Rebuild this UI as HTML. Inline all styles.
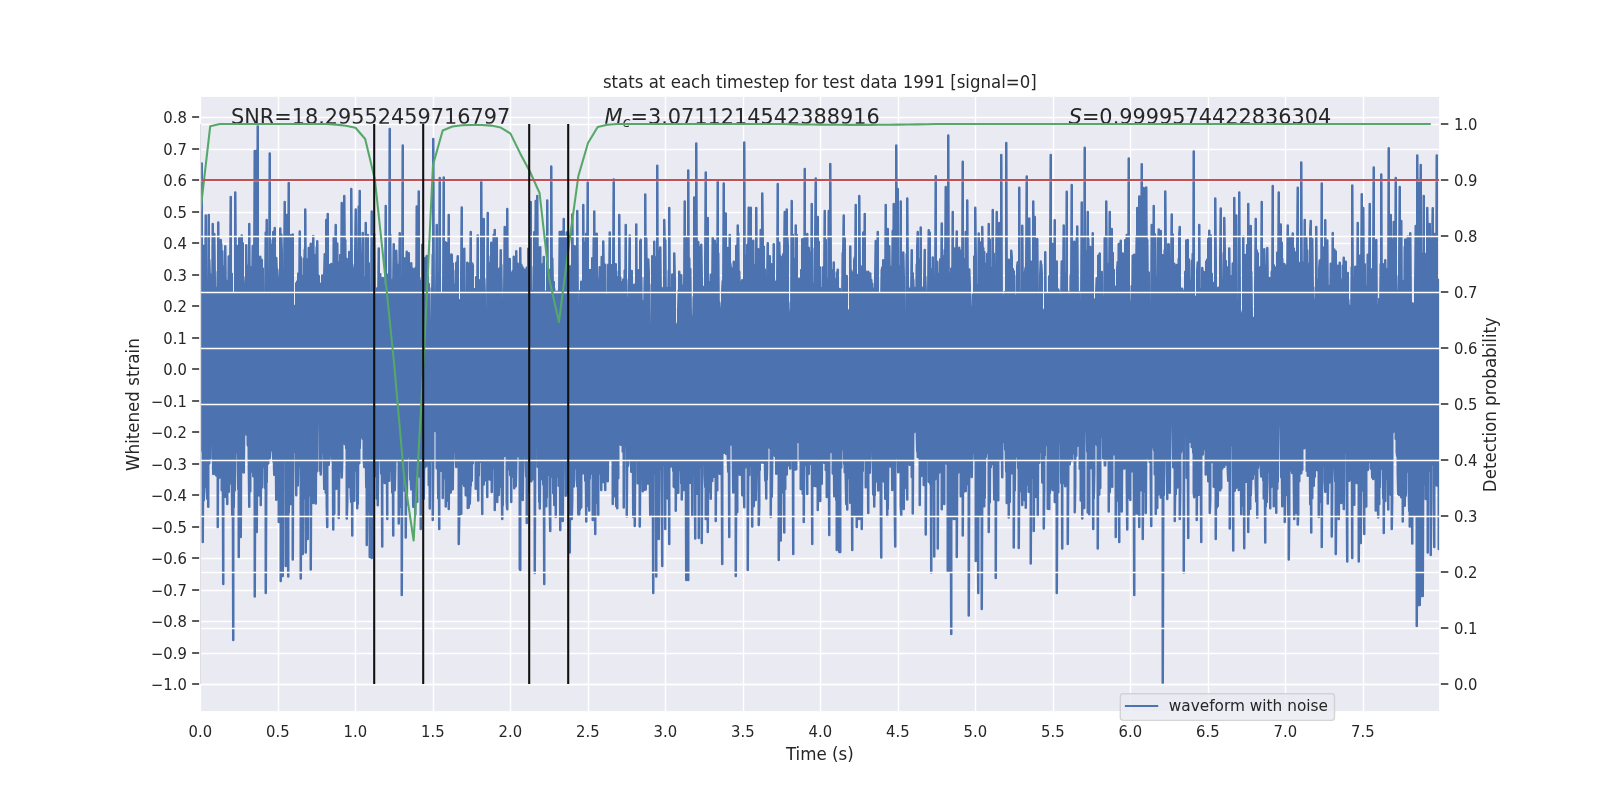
<!DOCTYPE html>
<html lang="en"><head><meta charset="utf-8"><title>stats at each timestep</title>
<style>html,body{margin:0;padding:0;background:#fff}body{width:1600px;height:800px;overflow:hidden}svg text{white-space:pre}</style></head>
<body>
<div id="fig" style="width:1600px;height:800px;will-change:transform">
<svg width="1600" height="800" viewBox="0 0 1600 800" style="display:block">
<defs><clipPath id="ax"><rect x="200" y="96" width="1240" height="616"/></clipPath></defs>
<rect x="0" y="0" width="1600" height="800" fill="#fff"/>
<rect x="200" y="96" width="1240" height="616" fill="#eaeaf2"/>
<path d="M200.5 96V712M278.5 96V712M355.5 96V712M433.5 96V712M510.5 96V712M588.5 96V712M665.5 96V712M743.5 96V712M820.5 96V712M898.5 96V712M975.5 96V712M1053.5 96V712M1130.5 96V712M1208.5 96V712M1285.5 96V712M1363.5 96V712M200 684.5H1440M200 653.5H1440M200 621.5H1440M200 590.5H1440M200 558.5H1440M200 527.5H1440M200 495.5H1440M200 464.5H1440M200 432.5H1440M200 401.5H1440M200 369.5H1440M200 338.5H1440M200 306.5H1440M200 275.5H1440M200 243.5H1440M200 212.5H1440M200 180.5H1440M200 149.5H1440M200 117.5H1440" stroke="#fff" stroke-width="1.39" fill="none" clip-path="url(#ax)"/>
<polyline points="200.75,278.4 200.75,450.62 201.25,441.39 201.25,240 201.75,163.4 201.75,415.49 202.25,424.56 202.25,307.91 202.75,302.54 202.75,542 203.25,431.56 203.25,245.8 203.75,337.53 203.75,500.2 204.25,490.25 204.25,255.69 204.75,259.39 204.75,487.47 205.25,440.51 205.25,290.81 205.75,215.4 205.75,436.02 206.25,458.86 206.25,304.06 206.75,305.74 206.75,463.26 207.25,498.73 207.25,292.45 207.75,288.12 207.75,420.08 208.25,506.83 208.25,284.37 208.75,215 208.75,446.42 209.25,463.42 209.25,260.03 209.75,278.66 209.75,430.61 210.25,458.41 210.25,274.6 210.75,308.65 210.75,425.15 211.25,429.45 211.25,313.01 211.75,279.5 211.75,430.43 212.25,443.74 212.25,325.87 212.75,224 212.75,444.28 213.25,473.97 213.25,287.35 213.75,290.93 213.75,425.78 214.25,429.44 214.25,234.03 214.75,278.04 214.75,469.35 215.25,470.85 215.25,287.4 215.75,288.69 215.75,474.52 216.25,475.53 216.25,306.27 216.75,333.89 216.75,469.94 217.25,460.89 217.25,310.41 217.75,272.06 217.75,527 218.25,426.4 218.25,222.6 218.75,297.73 218.75,437.58 219.25,477.84 219.25,337.72 219.75,254.23 219.75,436.17 220.25,459.27 220.25,313.5 220.75,240 220.75,440.97 221.25,452.33 221.25,244.25 221.75,287.73 221.75,490.34 222.25,469.74 222.25,251.18 222.75,277.09 222.75,453.27 223.25,584 223.25,266.6 223.75,319.52 223.75,485.86 224.25,469.41 224.25,285.34 224.75,287.88 224.75,452.91 225.25,496.79 225.25,246.29 225.75,298.3 225.75,472.72 226.25,452.07 226.25,280.73 226.75,323.5 226.75,470.08 227.25,503.91 227.25,296.48 227.75,300.94 227.75,460.72 228.25,474.48 228.25,313.86 228.75,256.47 228.75,491.73 229.25,427.37 229.25,297.04 229.75,268.89 229.75,455.26 230.25,465.02 230.25,281.41 230.75,197 230.75,423.49 231.25,483.68 231.25,277.25 231.75,273.62 231.75,475.05 232.25,515.72 232.25,313.81 232.75,292.79 232.75,448.4 233.25,640 233.25,306.85 233.75,295.44 233.75,507.27 234.25,451.01 234.25,318.95 234.75,306.01 234.75,490.37 235.25,451.67 235.25,192.6 235.75,274.08 235.75,446.14 236.25,442.12 236.25,302.52 236.75,245.68 236.75,437.7 237.25,452.34 237.25,275 237.75,315.51 237.75,433.78 238.25,489.33 238.25,251.57 238.75,322.87 238.75,557 239.25,428.09 239.25,238.13 239.75,283.07 239.75,423.07 240.25,409.04 240.25,314.28 240.75,310.4 240.75,537 241.25,425.52 241.25,244.34 241.75,235.4 241.75,471.54 242.25,443.9 242.25,311.35 242.75,243.37 242.75,436.59 243.25,440.01 243.25,276.92 243.75,283.08 243.75,472.45 244.25,415.92 244.25,297.26 244.75,294.85 244.75,428.82 245.25,433.35 245.25,306.86 245.75,326.92 245.75,428.03 246.25,434.44 246.25,245.2 246.75,290.82 246.75,433.94 247.25,430.84 247.25,284.83 247.75,301.01 247.75,444.84 248.25,445.89 248.25,265.46 248.75,329.66 248.75,454.51 249.25,506.85 249.25,224 249.75,328.47 249.75,459.82 250.25,491.33 250.25,316.33 250.75,267.5 250.75,467.98 251.25,461.61 251.25,275.42 251.75,293.64 251.75,456.33 252.25,471.59 252.25,286.68 252.75,245.97 252.75,456.46 253.25,476.15 253.25,299.48 253.75,281.39 253.75,435.38 254.25,445.12 254.25,272.9 254.75,151 254.75,596.6 255.25,449.93 255.25,287.03 255.75,263.72 255.75,491.85 256.25,516.43 256.25,151 256.75,313.79 256.75,532 257.25,428.54 257.25,276.75 257.75,126 257.75,479.62 258.25,470.21 258.25,265.25 258.75,257.38 258.75,443.03 259.25,495.52 259.25,315.05 259.75,294.3 259.75,455.85 260.25,423.38 260.25,256.64 260.75,332.91 260.75,505 261.25,438.75 261.25,278.11 261.75,259.97 261.75,465.37 262.25,487.35 262.25,287.49 262.75,268.43 262.75,428.26 263.25,417.11 263.25,307.82 263.75,309.93 263.75,466.42 264.25,450.87 264.25,298.17 264.75,311.44 264.75,453.03 265.25,488.19 265.25,299.35 265.75,232.46 265.75,593 266.25,488.61 266.25,282.78 266.75,220 266.75,482.36 267.25,408.56 267.25,304.55 267.75,270.57 267.75,432.89 268.25,463.55 268.25,292.49 268.75,280.08 268.75,423.45 269.25,426.39 269.25,287.3 269.75,153.4 269.75,458.12 270.25,450.01 270.25,240.19 270.75,266.48 270.75,450.7 271.25,441.53 271.25,282.19 271.75,293.75 271.75,441.68 272.25,439.46 272.25,244.75 272.75,294.8 272.75,428.67 273.25,461 273.25,232.11 273.75,322.22 273.75,453.32 274.25,474.78 274.25,293.51 274.75,228 274.75,467.9 275.25,470.74 275.25,294.28 275.75,306.02 275.75,446.26 276.25,499.65 276.25,258.07 276.75,273.62 276.75,449.24 277.25,469.74 277.25,269.4 277.75,278 277.75,485.85 278.25,450.03 278.25,298.69 278.75,300.28 278.75,522 279.25,467.16 279.25,295.74 279.75,309.59 279.75,429.4 280.25,459.34 280.25,228.6 280.75,308.83 280.75,581 281.25,438.51 281.25,234.59 281.75,252.46 281.75,466.46 282.25,446.61 282.25,317.34 282.75,280.25 282.75,576 283.25,441 283.25,289.99 283.75,281.02 283.75,432.54 284.25,458.39 284.25,275.28 284.75,202 284.75,453.01 285.25,448.88 285.25,289.22 285.75,290.96 285.75,566 286.25,474.44 286.25,278.14 286.75,215 286.75,461.58 287.25,466.33 287.25,311.08 287.75,323.14 287.75,463.13 288.25,576.6 288.25,294.81 288.75,183 288.75,512.49 289.25,445.78 289.25,256.65 289.75,267.96 289.75,467.96 290.25,454.1 290.25,317.26 290.75,235.27 290.75,504 291.25,453.71 291.25,258.66 291.75,244.87 291.75,452.73 292.25,443.26 292.25,286.71 292.75,234.54 292.75,559.4 293.25,423.13 293.25,325.42 293.75,328.48 293.75,436.98 294.25,450.26 294.25,330.98 294.75,305.89 294.75,425.08 295.25,451.86 295.25,306.2 295.75,310.79 295.75,438.88 296.25,495.29 296.25,283.29 296.75,326.75 296.75,444.89 297.25,448.97 297.25,281.38 297.75,312.53 297.75,485.43 298.25,461.42 298.25,273.48 298.75,330.74 298.75,422.39 299.25,437.99 299.25,301.81 299.75,231.6 299.75,465.45 300.25,436.67 300.25,285.55 300.75,257.22 300.75,578.6 301.25,466.45 301.25,275.4 301.75,279.66 301.75,456.68 302.25,441.57 302.25,310.5 302.75,282.7 302.75,554 303.25,467.37 303.25,326.62 303.75,258.72 303.75,420.66 304.25,441.89 304.25,293.68 304.75,249.87 304.75,444.15 305.25,498.8 305.25,209.6 305.75,299.86 305.75,552.6 306.25,446.76 306.25,301.29 306.75,317.31 306.75,436.31 307.25,472.99 307.25,278.27 307.75,259.34 307.75,539 308.25,423.44 308.25,301.59 308.75,248.1 308.75,495.59 309.25,473.07 309.25,259.38 309.75,315.74 309.75,437.95 310.25,449.32 310.25,263.51 310.75,243.71 310.75,569.6 311.25,450.79 311.25,310.03 311.75,282.76 311.75,425.65 312.25,454.01 312.25,277.18 312.75,279.78 312.75,457.47 313.25,503.05 313.25,236 313.75,275.1 313.75,490.73 314.25,460.42 314.25,277.79 314.75,255.26 314.75,422.6 315.25,452.24 315.25,258.44 315.75,300.66 315.75,503.4 316.25,426.55 316.25,268.86 316.75,247.17 316.75,471.59 317.25,418.2 317.25,241.14 317.75,312.9 317.75,424.24 318.25,418.37 318.25,329.3 318.75,276.07 318.75,417.71 319.25,419 319.25,308.7 319.75,283.56 319.75,470.68 320.25,452.6 320.25,287.89 320.75,297.05 320.75,474.51 321.25,450.1 321.25,305.89 321.75,291.63 321.75,432.28 322.25,451.37 322.25,275.47 322.75,318.49 322.75,422.58 323.25,427.02 323.25,296.96 323.75,315.32 323.75,452.85 324.25,488.87 324.25,274.98 324.75,254.14 324.75,436.99 325.25,457.12 325.25,297.22 325.75,297.58 325.75,492.76 326.25,489.25 326.25,220 326.75,308.67 326.75,504.45 327.25,527 327.25,306.28 327.75,214 327.75,463.7 328.25,463.13 328.25,291.57 328.75,320.65 328.75,464.67 329.25,454.62 329.25,265.28 329.75,282.32 329.75,447.64 330.25,439.48 330.25,302.57 330.75,321.12 330.75,424.48 331.25,448.2 331.25,263.98 331.75,315.56 331.75,459.45 332.25,460.89 332.25,315.37 332.75,315.6 332.75,433.98 333.25,529.6 333.25,320.68 333.75,237.41 333.75,421.02 334.25,513.71 334.25,304.71 334.75,302.1 334.75,468.94 335.25,461.15 335.25,253.76 335.75,225 335.75,451.08 336.25,488.86 336.25,310.82 336.75,293.17 336.75,411.34 337.25,415.28 337.25,243.4 337.75,297.33 337.75,458.51 338.25,443.45 338.25,270.08 338.75,318.94 338.75,518 339.25,459.7 339.25,268.27 339.75,262.25 339.75,421.4 340.25,421.27 340.25,254.94 340.75,273.84 340.75,471.3 341.25,428.24 341.25,297.65 341.75,203 341.75,477.52 342.25,459.43 342.25,287.05 342.75,264.7 342.75,436.01 343.25,440.83 343.25,310.53 343.75,304.93 343.75,438.18 344.25,430.11 344.25,196 344.75,265.82 344.75,444.02 345.25,441.22 345.25,240.17 345.75,316.06 345.75,436.79 346.25,448.5 346.25,311.05 346.75,259.03 346.75,518.6 347.25,502.73 347.25,276.65 347.75,268.98 347.75,458.8 348.25,424.65 348.25,328.28 348.75,296.06 348.75,474.98 349.25,456.9 349.25,251.94 349.75,262.17 349.75,487.26 350.25,421.83 350.25,295.96 350.75,276.96 350.75,495.93 351.25,502.11 351.25,189 351.75,264.45 351.75,412.16 352.25,535.4 352.25,264.67 352.75,268.94 352.75,430.4 353.25,459.17 353.25,292.47 353.75,297.13 353.75,427.24 354.25,500.7 354.25,294.23 354.75,327.84 354.75,435.5 355.25,470.43 355.25,251.71 355.75,209.4 355.75,469.1 356.25,445.02 356.25,296.48 356.75,284.8 356.75,437.77 357.25,508.29 357.25,268.9 357.75,296.9 357.75,504 358.25,440.55 358.25,254.13 358.75,206.6 358.75,445.41 359.25,463.31 359.25,296.49 359.75,191 359.75,448.21 360.25,429.46 360.25,264.34 360.75,303.64 360.75,436.45 361.25,437.03 361.25,314.05 361.75,269.88 361.75,435.04 362.25,431.79 362.25,255.02 362.75,232.88 362.75,438.65 363.25,413.15 363.25,316.28 363.75,319.48 363.75,459.42 364.25,466.93 364.25,277.6 364.75,316.91 364.75,453 365.25,424.34 365.25,311.65 365.75,223 365.75,436.88 366.25,487.19 366.25,292.36 366.75,265.57 366.75,545 367.25,503.76 367.25,310.55 367.75,234.93 367.75,511.34 368.25,439.34 368.25,308.51 368.75,263.22 368.75,510.4 369.25,450.46 369.25,322.37 369.75,290.41 369.75,557 370.25,511.67 370.25,328 370.75,301.59 370.75,464.2 371.25,463.21 371.25,301.7 371.75,211.6 371.75,558 372.25,464.3 372.25,291.74 372.75,323.86 372.75,439.65 373.25,449.47 373.25,257.19 373.75,242.22 373.75,448.78 374.25,446 374.25,234.31 374.75,306.34 374.75,467.72 375.25,476.04 375.25,296.03 375.75,307.76 375.75,434.66 376.25,443.93 376.25,316.14 376.75,327.9 376.75,498.53 377.25,430.28 377.25,288.21 377.75,316.3 377.75,505.27 378.25,452.07 378.25,311.69 378.75,248.58 378.75,449.58 379.25,458.1 379.25,289.62 379.75,311.09 379.75,453.14 380.25,455 380.25,274.26 380.75,304.96 380.75,451.84 381.25,473.64 381.25,286.43 381.75,303.74 381.75,442.05 382.25,546.6 382.25,287.25 382.75,278.1 382.75,452.55 383.25,427.14 383.25,285.72 383.75,295.92 383.75,453.42 384.25,456.66 384.25,298.65 384.75,299.94 384.75,483.03 385.25,429.24 385.25,311.44 385.75,206 385.75,450.04 386.25,482.54 386.25,317.26 386.75,295.41 386.75,446.17 387.25,519 387.25,274.83 387.75,307.51 387.75,475.34 388.25,421.06 388.25,279.38 388.75,309.22 388.75,449.27 389.25,480.76 389.25,287.98 389.75,129 389.75,458.96 390.25,470.86 390.25,234.76 390.75,326.47 390.75,436.63 391.25,471.08 391.25,301.48 391.75,280.58 391.75,460.4 392.25,492.38 392.25,322.53 392.75,307.07 392.75,452.26 393.25,535.4 393.25,291.02 393.75,244.13 393.75,441.8 394.25,464.15 394.25,264.26 394.75,254.41 394.75,490.17 395.25,465.15 395.25,264.25 395.75,270.42 395.75,442.55 396.25,446.14 396.25,250.7 396.75,273.12 396.75,450.25 397.25,438.72 397.25,267.31 397.75,302.43 397.75,460.91 398.25,446.55 398.25,312.39 398.75,264.82 398.75,523.4 399.25,474.76 399.25,312.54 399.75,233.26 399.75,472.63 400.25,442.89 400.25,280.86 400.75,300.5 400.75,431.74 401.25,506.87 401.25,305.64 401.75,313.44 401.75,595 402.25,440.48 402.25,287.38 402.75,145.4 402.75,455.61 403.25,467.06 403.25,297.26 403.75,282.62 403.75,444.63 404.25,429.09 404.25,258.42 404.75,303.82 404.75,490.82 405.25,434.03 405.25,258.7 405.75,270.93 405.75,537.6 406.25,452.76 406.25,276.73 406.75,251.73 406.75,504.75 407.25,453.71 407.25,293.27 407.75,294.56 407.75,451.87 408.25,456.44 408.25,272.05 408.75,253.36 408.75,447.11 409.25,454.97 409.25,300.11 409.75,274.28 409.75,439.15 410.25,479.66 410.25,309.13 410.75,284.51 410.75,478.96 411.25,489.36 411.25,263.21 411.75,322.67 411.75,455.98 412.25,438.32 412.25,268.21 412.75,332.49 412.75,467.22 413.25,506.78 413.25,290.2 413.75,290.76 413.75,444.29 414.25,416.55 414.25,294.98 414.75,269.03 414.75,435.6 415.25,514.4 415.25,286.71 415.75,267.87 415.75,410.88 416.25,422.94 416.25,320.27 416.75,206.6 416.75,428.18 417.25,501.86 417.25,284 417.75,311.29 417.75,449.14 418.25,472.64 418.25,326.63 418.75,191.4 418.75,474.06 419.25,452.51 419.25,277.87 419.75,284.59 419.75,476.84 420.25,454.36 420.25,321.53 420.75,281.14 420.75,529 421.25,444.09 421.25,308.13 421.75,310.16 421.75,406.84 422.25,464.03 422.25,244.63 422.75,309.98 422.75,441.33 423.25,441.98 423.25,291.79 423.75,265.58 423.75,498.82 424.25,447.72 424.25,270.46 424.75,284.37 424.75,428.59 425.25,467.08 425.25,257.91 425.75,290.96 425.75,459.83 426.25,423.46 426.25,278.82 426.75,256.06 426.75,446.87 427.25,465.48 427.25,273.46 427.75,276.9 427.75,442.28 428.25,426.83 428.25,295.19 428.75,283.99 428.75,485.01 429.25,457.36 429.25,324.91 429.75,320.03 429.75,508.38 430.25,419.82 430.25,321.96 430.75,326.84 430.75,438.49 431.25,460.53 431.25,320.88 431.75,288.19 431.75,455.23 432.25,434.46 432.25,299.91 432.75,254.77 432.75,520 433.25,458.81 433.25,139 433.75,304.9 433.75,425.17 434.25,421.74 434.25,302.27 434.75,303.47 434.75,420.19 435.25,431.1 435.25,305.27 435.75,327.63 435.75,415.39 436.25,426.69 436.25,296.33 436.75,225 436.75,468.13 437.25,452.81 437.25,282.28 437.75,284.03 437.75,426.84 438.25,498.31 438.25,274.76 438.75,273.5 438.75,448.16 439.25,529 439.25,281.94 439.75,178 439.75,465.32 440.25,466.29 440.25,311.11 440.75,303.06 440.75,451.84 441.25,470.78 441.25,303.04 441.75,293.46 441.75,439.82 442.25,440.77 442.25,334.42 442.75,298.9 442.75,497.97 443.25,436.99 443.25,292.28 443.75,177.4 443.75,449.32 444.25,478.21 444.25,282.12 444.75,270.5 444.75,445.63 445.25,448 445.25,242.13 445.75,297.2 445.75,506.47 446.25,437.19 446.25,304.88 446.75,243.28 446.75,439.65 447.25,500.63 447.25,288.92 447.75,272.71 447.75,441.98 448.25,445.67 448.25,321.64 448.75,215 448.75,509 449.25,445.04 449.25,301.64 449.75,288.87 449.75,410.44 450.25,488.28 450.25,309.97 450.75,294.2 450.75,492.48 451.25,438.57 451.25,254.56 451.75,254.64 451.75,437.95 452.25,479.11 452.25,290.39 452.75,263.38 452.75,489.13 453.25,438.49 453.25,291.52 453.75,297.46 453.75,437.15 454.25,439.82 454.25,284.97 454.75,309.71 454.75,431.81 455.25,451.65 455.25,301.39 455.75,270.54 455.75,457.26 456.25,466.89 456.25,263.04 456.75,323.87 456.75,423.15 457.25,436.14 457.25,267.64 457.75,256.3 457.75,429.99 458.25,441.63 458.25,302.31 458.75,323.06 458.75,544 459.25,515.73 459.25,300.34 459.75,306.37 459.75,512 460.25,431.92 460.25,300.52 460.75,301.98 460.75,470.26 461.25,513.63 461.25,277.32 461.75,207.4 461.75,484.38 462.25,468.63 462.25,290.18 462.75,286.6 462.75,448.8 463.25,450.46 463.25,277.88 463.75,309.57 463.75,443.78 464.25,486.03 464.25,248.76 464.75,303.31 464.75,485.62 465.25,456.31 465.25,302.13 465.75,305.64 465.75,495.32 466.25,468.98 466.25,322.39 466.75,294.01 466.75,472.06 467.25,441.55 467.25,262.87 467.75,270.22 467.75,508 468.25,438.71 468.25,310.16 468.75,315.03 468.75,507.46 469.25,485.18 469.25,301.06 469.75,263.33 469.75,503.74 470.25,488.5 470.25,289.34 470.75,231.96 470.75,485.84 471.25,452.65 471.25,275.55 471.75,278.77 471.75,480.67 472.25,434.19 472.25,263.41 472.75,265.59 472.75,463.58 473.25,421.24 473.25,299.51 473.75,305.59 473.75,447.2 474.25,459.54 474.25,292.98 474.75,289.26 474.75,434.05 475.25,457.83 475.25,314.6 475.75,292.71 475.75,488.64 476.25,421.11 476.25,277.08 476.75,315.14 476.75,461.91 477.25,451.58 477.25,314.93 477.75,235.4 477.75,466.1 478.25,500.54 478.25,303.72 478.75,279.93 478.75,475.82 479.25,437.53 479.25,329.51 479.75,311.09 479.75,461.05 480.25,461.58 480.25,312.61 480.75,290.34 480.75,413.63 481.25,431.31 481.25,182 481.75,291.51 481.75,447.57 482.25,514 482.25,312.79 482.75,304.69 482.75,439.38 483.25,471.16 483.25,260.06 483.75,219 483.75,484.45 484.25,454.14 484.25,279.1 484.75,295.18 484.75,468.44 485.25,480.16 485.25,315.66 485.75,312.73 485.75,470.87 486.25,469.41 486.25,317.2 486.75,312.69 486.75,405.33 487.25,496.92 487.25,313.93 487.75,213 487.75,433.76 488.25,435.26 488.25,324.97 488.75,274.89 488.75,457.76 489.25,463.52 489.25,280.54 489.75,262.82 489.75,479.46 490.25,443.17 490.25,308.76 490.75,256.38 490.75,451.96 491.25,466.9 491.25,242.84 491.75,317.15 491.75,492.03 492.25,455.45 492.25,301.49 492.75,328.02 492.75,425.2 493.25,413.92 493.25,254.07 493.75,234.71 493.75,467.93 494.25,451.99 494.25,281.06 494.75,230 494.75,510 495.25,445.36 495.25,274.64 495.75,273.43 495.75,435.09 496.25,455.22 496.25,283.04 496.75,237.87 496.75,440.59 497.25,502.08 497.25,279.9 497.75,300.07 497.75,435.12 498.25,427.61 498.25,287.5 498.75,331.44 498.75,495 499.25,449.16 499.25,268.63 499.75,271.86 499.75,481.56 500.25,463.04 500.25,294.14 500.75,250.36 500.75,454.68 501.25,486.87 501.25,264.94 501.75,300 501.75,489.78 502.25,519 502.25,321.13 502.75,315.46 502.75,505.57 503.25,419.31 503.25,311.05 503.75,302.27 503.75,410.51 504.25,455.91 504.25,292.27 504.75,227 504.75,443.73 505.25,451.75 505.25,304.06 505.75,288.2 505.75,455.59 506.25,454.85 506.25,290.17 506.75,289.96 506.75,502 507.25,509.22 507.25,209 507.75,337.72 507.75,446.69 508.25,442.81 508.25,260.83 508.75,306.42 508.75,469.14 509.25,436.6 509.25,314.54 509.75,259.04 509.75,450.27 510.25,475.3 510.25,272.63 510.75,308.87 510.75,410.63 511.25,502 511.25,304.83 511.75,292.51 511.75,477 512.25,449.4 512.25,304.76 512.75,270.98 512.75,440.11 513.25,459.95 513.25,315.7 513.75,256.68 513.75,443.35 514.25,488.25 514.25,316.83 514.75,287.26 514.75,463.82 515.25,444.09 515.25,327.46 515.75,284.64 515.75,486.24 516.25,465.18 516.25,251.28 516.75,320.31 516.75,431.32 517.25,451.17 517.25,304.36 517.75,263.79 517.75,456.33 518.25,455.28 518.25,279.88 518.75,301.66 518.75,445.01 519.25,453.49 519.25,278.07 519.75,291.76 519.75,569 520.25,570 520.25,248.2 520.75,303.04 520.75,489.19 521.25,428.05 521.25,264.67 521.75,277.46 521.75,449.83 522.25,435.51 522.25,266.76 522.75,297.13 522.75,499.99 523.25,460.89 523.25,268.54 523.75,271.4 523.75,438.06 524.25,427.55 524.25,296.49 524.75,329.35 524.75,451.63 525.25,427.99 525.25,274.19 525.75,269.78 525.75,456.02 526.25,476.45 526.25,309.45 526.75,267.87 526.75,523 527.25,434.25 527.25,304.05 527.75,290.71 527.75,447.7 528.25,434.15 528.25,248.7 528.75,292.23 528.75,491.98 529.25,427.96 529.25,303.39 529.75,302.16 529.75,477.78 530.25,445.88 530.25,321.18 530.75,202 530.75,476.4 531.25,481.32 531.25,304.58 531.75,311.96 531.75,431.59 532.25,479.57 532.25,322.97 532.75,290.96 532.75,426.33 533.25,461.98 533.25,308.72 533.75,266.95 533.75,434.32 534.25,435.37 534.25,232.19 534.75,304.45 534.75,573 535.25,438.72 535.25,282.87 535.75,201 535.75,438.28 536.25,437.17 536.25,321.42 536.75,316.14 536.75,429.65 537.25,447.09 537.25,196 537.75,290.36 537.75,466.72 538.25,447.94 538.25,258.28 538.75,322.5 538.75,416.21 539.25,502 539.25,281.01 539.75,247.58 539.75,508.59 540.25,464.54 540.25,247.21 540.75,337.19 540.75,479.48 541.25,450.3 541.25,286.83 541.75,297.77 541.75,419.99 542.25,462.59 542.25,264.38 542.75,321.65 542.75,435.76 543.25,484.47 543.25,305.02 543.75,257.05 543.75,439.06 544.25,584 544.25,290.69 544.75,291.87 544.75,445.8 545.25,468.92 545.25,308.63 545.75,301.16 545.75,471.43 546.25,506.37 546.25,326.25 546.75,296.16 546.75,497.44 547.25,452.77 547.25,200.6 547.75,320.6 547.75,472.39 548.25,435.4 548.25,283.22 548.75,269.65 548.75,428.16 549.25,474.89 549.25,282.29 549.75,276.42 549.75,505.8 550.25,531 550.25,300.9 550.75,282.96 550.75,458.25 551.25,467.01 551.25,166.6 551.75,281.47 551.75,476.59 552.25,462.16 552.25,258.55 552.75,284.61 552.75,447.8 553.25,493.21 553.25,309.96 553.75,282.01 553.75,448.21 554.25,504.93 554.25,289.13 554.75,312.53 554.75,485.07 555.25,484.19 555.25,292.18 555.75,297.22 555.75,517 556.25,440.85 556.25,315.2 556.75,298.1 556.75,446.02 557.25,457.16 557.25,291.73 557.75,295.41 557.75,448.74 558.25,476.92 558.25,304.66 558.75,297.54 558.75,485.64 559.25,467.06 559.25,291.23 559.75,232 559.75,417.94 560.25,530 560.25,291.01 560.75,317.88 560.75,454.56 561.25,483.47 561.25,256.23 561.75,231.72 561.75,500.81 562.25,448.59 562.25,318.47 562.75,306.13 562.75,521 563.25,457.99 563.25,311.9 563.75,219 563.75,427.8 564.25,404.57 564.25,236.24 564.75,325.81 564.75,458.75 565.25,457.36 565.25,300.29 565.75,310.4 565.75,495.65 566.25,435.35 566.25,290.69 566.75,232.52 566.75,493.54 567.25,441.71 567.25,322.04 567.75,312.1 567.75,459.89 568.25,474.17 568.25,289.42 568.75,286.65 568.75,432.46 569.25,489.52 569.25,266.16 569.75,292.97 569.75,552.6 570.25,439.85 570.25,314.66 570.75,298.83 570.75,407.3 571.25,468.21 571.25,305.2 571.75,265.53 571.75,519 572.25,499.07 572.25,214.6 572.75,257.74 572.75,436.83 573.25,430.62 573.25,301.79 573.75,261.59 573.75,486.5 574.25,441.07 574.25,333.5 574.75,246.31 574.75,424.57 575.25,427.53 575.25,312.84 575.75,291.69 575.75,468.36 576.25,459.64 576.25,275.04 576.75,287.87 576.75,478.57 577.25,486.16 577.25,211 577.75,314.84 577.75,407.92 578.25,514.41 578.25,303.63 578.75,324.51 578.75,499.01 579.25,514.46 579.25,308.56 579.75,315.65 579.75,510 580.25,449.17 580.25,291.04 580.75,298.63 580.75,440.14 581.25,507.44 581.25,281.68 581.75,303.89 581.75,451.59 582.25,456.21 582.25,327.72 582.75,300.39 582.75,473.31 583.25,472.33 583.25,205 583.75,305.67 583.75,472.82 584.25,466.51 584.25,295.3 584.75,265.01 584.75,457.67 585.25,480.84 585.25,295.15 585.75,242.62 585.75,449.96 586.25,521.4 586.25,233.73 586.75,301.81 586.75,506.44 587.25,492.36 587.25,267.28 587.75,182.6 587.75,475.3 588.25,434.31 588.25,314.8 588.75,292.96 588.75,421.71 589.25,510.62 589.25,280.36 589.75,270.17 589.75,478.8 590.25,441.79 590.25,314.24 590.75,269.92 590.75,467 591.25,416.04 591.25,290.26 591.75,315.5 591.75,449.82 592.25,473.87 592.25,258.34 592.75,271.67 592.75,520 593.25,486.16 593.25,315.77 593.75,237.6 593.75,507.54 594.25,431.78 594.25,211.4 594.75,319.39 594.75,472.31 595.25,534 595.25,300.36 595.75,293.92 595.75,434.79 596.25,446.89 596.25,327.9 596.75,233.69 596.75,455.78 597.25,502.87 597.25,279.58 597.75,322.44 597.75,480.64 598.25,515 598.25,283.17 598.75,291.47 598.75,423.3 599.25,473.26 599.25,283.54 599.75,267.14 599.75,461.19 600.25,465.4 600.25,273.41 600.75,300.29 600.75,447.13 601.25,489.89 601.25,313.31 601.75,257.02 601.75,461.22 602.25,463.98 602.25,294.84 602.75,261.33 602.75,440.23 603.25,482.05 603.25,241.44 603.75,277.85 603.75,437.75 604.25,431.78 604.25,304.94 604.75,291.89 604.75,464.36 605.25,490.03 605.25,264.81 605.75,330.87 605.75,443.18 606.25,443.78 606.25,297.5 606.75,317.3 606.75,432.8 607.25,464.83 607.25,295.21 607.75,297.37 607.75,481.3 608.25,430.76 608.25,264.81 608.75,290.57 608.75,459.59 609.25,459.93 609.25,292.22 609.75,232.6 609.75,429.02 610.25,459.23 610.25,293.32 610.75,314.77 610.75,441.76 611.25,436.65 611.25,323.25 611.75,265.13 611.75,459.06 612.25,427.36 612.25,283.49 612.75,274.07 612.75,504 613.25,466.1 613.25,258.62 613.75,179.4 613.75,450.56 614.25,415.9 614.25,307.28 614.75,304.1 614.75,496.18 615.25,439.52 615.25,302.27 615.75,264.3 615.75,451.05 616.25,506.29 616.25,297.41 616.75,300.93 616.75,439.49 617.25,508.15 617.25,277.4 617.75,310.87 617.75,450.97 618.25,478.14 618.25,317.94 618.75,271.53 618.75,442.04 619.25,436.51 619.25,215 619.75,302.8 619.75,437.29 620.25,428.49 620.25,277.43 620.75,327.69 620.75,444.81 621.25,439.5 621.25,295.32 621.75,282.41 621.75,437.81 622.25,431.78 622.25,305.85 622.75,299.2 622.75,451.54 623.25,431 623.25,279.76 623.75,281.42 623.75,507.45 624.25,434.11 624.25,313.52 624.75,270.54 624.75,445.58 625.25,437.55 625.25,320.82 625.75,225 625.75,442.07 626.25,427.63 626.25,309.64 626.75,305.84 626.75,516.6 627.25,443.67 627.25,309.79 627.75,297.69 627.75,466.32 628.25,464.07 628.25,303.49 628.75,280.12 628.75,441.21 629.25,457.76 629.25,278.13 629.75,235.44 629.75,433.75 630.25,450.72 630.25,326.14 630.75,286.87 630.75,418.08 631.25,471.68 631.25,280.46 631.75,270.98 631.75,464.03 632.25,441.75 632.25,300.05 632.75,300.61 632.75,414.38 633.25,516.88 633.25,337.72 633.75,327.46 633.75,430.7 634.25,445.48 634.25,284.64 634.75,321.32 634.75,526 635.25,449.14 635.25,309.63 635.75,300.24 635.75,450.35 636.25,459.47 636.25,224.6 636.75,328.36 636.75,445.21 637.25,440.25 637.25,323.51 637.75,293.15 637.75,483.22 638.25,442.23 638.25,309.44 638.75,270.34 638.75,445.76 639.25,456.43 639.25,334.96 639.75,306.46 639.75,526.6 640.25,476.21 640.25,241.47 640.75,239.87 640.75,426.68 641.25,445.17 641.25,277.44 641.75,319.33 641.75,451.63 642.25,440.82 642.25,301.29 642.75,329.01 642.75,491.3 643.25,447.21 643.25,308.36 643.75,329.6 643.75,451.62 644.25,454.88 644.25,316.02 644.75,277.68 644.75,489.68 645.25,438.07 645.25,194.6 645.75,313.39 645.75,489.46 646.25,454.67 646.25,238.45 646.75,300.09 646.75,441.36 647.25,434.39 647.25,300.25 647.75,320.07 647.75,483.61 648.25,444.49 648.25,259.56 648.75,273.63 648.75,438.69 649.25,426.01 649.25,284.87 649.75,325.51 649.75,465.69 650.25,516.01 650.25,327.3 650.75,326.04 650.75,514 651.25,463.67 651.25,327.19 651.75,323.94 651.75,452.82 652.25,471.31 652.25,256.35 652.75,277 652.75,469.71 653.25,593 653.25,287.05 653.75,332.6 653.75,472.31 654.25,473.15 654.25,241.71 654.75,322.47 654.75,473.57 655.25,430.77 655.25,315.75 655.75,271.95 655.75,440.44 656.25,576.6 656.25,257.13 656.75,260.88 656.75,514.24 657.25,466.3 657.25,165.8 657.75,311.63 657.75,464.98 658.25,433.34 658.25,327.45 658.75,250.38 658.75,539 659.25,453.33 659.25,278.07 659.75,306.52 659.75,449.63 660.25,436.4 660.25,247.42 660.75,295.44 660.75,427.24 661.25,468.55 661.25,301.76 661.75,288.08 661.75,484.09 662.25,566 662.25,335.64 662.75,309.82 662.75,444.27 663.25,443.67 663.25,309.85 663.75,312.68 663.75,460.11 664.25,464.93 664.25,220 664.75,246.83 664.75,450.94 665.25,529 665.25,240.16 665.75,301.38 665.75,449.63 666.25,443.87 666.25,303.93 666.75,293.55 666.75,480.8 667.25,491.65 667.25,288.16 667.75,318.97 667.75,498.51 668.25,434.39 668.25,325.54 668.75,270.71 668.75,436.49 669.25,544 669.25,208 669.75,324.19 669.75,433.72 670.25,466.24 670.25,287.62 670.75,288.16 670.75,466.49 671.25,445.41 671.25,293.13 671.75,306.54 671.75,444.93 672.25,435.42 672.25,274.48 672.75,316.13 672.75,461.39 673.25,471.05 673.25,313.73 673.75,295.09 673.75,486.58 674.25,487.09 674.25,253.54 674.75,278.52 674.75,449.35 675.25,441.7 675.25,324.97 675.75,330.66 675.75,510.67 676.25,460.91 676.25,324.94 676.75,330.99 676.75,442.44 677.25,431.87 677.25,333 677.75,323.06 677.75,485.6 678.25,492.81 678.25,310.26 678.75,290.58 678.75,462.19 679.25,449.18 679.25,271.83 679.75,285.5 679.75,469.65 680.25,421.76 680.25,323.83 680.75,293.6 680.75,462.85 681.25,483.39 681.25,275.18 681.75,323.87 681.75,499.55 682.25,479.61 682.25,305.9 682.75,331.54 682.75,456.11 683.25,435.09 683.25,285.42 683.75,296.9 683.75,473.12 684.25,489.9 684.25,288.19 684.75,201.4 684.75,438.28 685.25,433.03 685.25,275.51 685.75,311.95 685.75,429.67 686.25,580 686.25,237.33 686.75,285.43 686.75,489.19 687.25,425.82 687.25,288.98 687.75,290.99 687.75,465.71 688.25,580 688.25,170.6 688.75,303.26 688.75,466.04 689.25,447.69 689.25,258.51 689.75,303.44 689.75,426.45 690.25,482.81 690.25,269.09 690.75,317.82 690.75,443.69 691.25,451.51 691.25,316.5 691.75,318.36 691.75,431.2 692.25,516 692.25,324.33 692.75,323.97 692.75,431.44 693.25,440.77 693.25,324.59 693.75,297.07 693.75,462.88 694.25,443.57 694.25,197.4 694.75,322.13 694.75,470.36 695.25,538.6 695.25,305.49 695.75,278.58 695.75,462.7 696.25,418.6 696.25,143.4 696.75,274.31 696.75,493.85 697.25,436.56 697.25,305.37 697.75,337.72 697.75,446.69 698.25,458.96 698.25,242.09 698.75,257.98 698.75,538 699.25,446.42 699.25,311.55 699.75,310.15 699.75,452.95 700.25,466.78 700.25,309.61 700.75,246.79 700.75,454.08 701.25,442.53 701.25,244.82 701.75,278.69 701.75,543 702.25,449.23 702.25,286.86 702.75,309.79 702.75,443.11 703.25,464.62 703.25,287 703.75,303.2 703.75,457.93 704.25,451.01 704.25,316.04 704.75,315.83 704.75,474.42 705.25,486.96 705.25,258.79 705.75,172.6 705.75,519 706.25,446.36 706.25,314.59 706.75,333.29 706.75,515.89 707.25,428.77 707.25,305.11 707.75,218 707.75,532 708.25,451.66 708.25,310.7 708.75,281.97 708.75,450.03 709.25,491.87 709.25,294.06 709.75,293.57 709.75,469.26 710.25,488.14 710.25,309.39 710.75,274.77 710.75,498.65 711.25,429.92 711.25,303.28 711.75,295.68 711.75,457.28 712.25,480.91 712.25,291.13 712.75,237.98 712.75,426.52 713.25,460.13 713.25,306.36 713.75,269.23 713.75,476.67 714.25,439.5 714.25,301.89 714.75,240.75 714.75,429.96 715.25,442.94 715.25,296.03 715.75,288.08 715.75,521 716.25,442.69 716.25,244.97 716.75,273.98 716.75,452.38 717.25,490.21 717.25,319.2 717.75,180.6 717.75,458.3 718.25,463.71 718.25,253.59 718.75,328.74 718.75,429.24 719.25,424.41 719.25,302.49 719.75,308.88 719.75,473.69 720.25,446.75 720.25,332.61 720.75,312.91 720.75,448.5 721.25,446 721.25,308.8 721.75,320.09 721.75,467.87 722.25,564 722.25,290.52 722.75,281.21 722.75,427.32 723.25,425.17 723.25,301.27 723.75,183.4 723.75,453.03 724.25,430.91 724.25,257.32 724.75,258.3 724.75,443.36 725.25,436.41 725.25,283.69 725.75,213.4 725.75,444.5 726.25,454 726.25,285.28 726.75,278.01 726.75,444.39 727.25,445.99 727.25,293.64 727.75,247.89 727.75,456.07 728.25,471.79 728.25,296.31 728.75,287.65 728.75,421.11 729.25,537 729.25,317.17 729.75,235 729.75,439.16 730.25,444.69 730.25,263.57 730.75,267.82 730.75,411.62 731.25,423.44 731.25,305.59 731.75,321.51 731.75,428.27 732.25,439.92 732.25,269.09 732.75,293.95 732.75,451.04 733.25,492.43 733.25,294.58 733.75,261.87 733.75,472.94 734.25,427.09 734.25,311.74 734.75,277.1 734.75,447.71 735.25,445.72 735.25,269.21 735.75,287.24 735.75,576 736.25,479.26 736.25,245.88 736.75,290.76 736.75,426.64 737.25,511.97 737.25,291.03 737.75,225.4 737.75,455.42 738.25,447.98 738.25,233.29 738.75,301.41 738.75,473.24 739.25,442.07 739.25,271.72 739.75,294.96 739.75,474.73 740.25,451.3 740.25,306.34 740.75,287.02 740.75,455.53 741.25,435.91 741.25,328.54 741.75,281.72 741.75,436.95 742.25,495.21 742.25,280.15 742.75,321.57 742.75,462.7 743.25,451.73 743.25,288.68 743.75,324.96 743.75,481.83 744.25,507.34 744.25,142.6 744.75,310.96 744.75,433.57 745.25,467.54 745.25,297.84 745.75,302.22 745.75,414.68 746.25,465.71 746.25,280.39 746.75,255.51 746.75,441.2 747.25,440.41 747.25,244.99 747.75,300.54 747.75,570 748.25,464.91 748.25,283.08 748.75,207.8 748.75,452.71 749.25,474.88 749.25,297.55 749.75,249.72 749.75,425.37 750.25,434.36 750.25,316.71 750.75,207.8 750.75,439.4 751.25,465.35 751.25,275.91 751.75,302.97 751.75,450.92 752.25,526.6 752.25,262.03 752.75,303.3 752.75,457.38 753.25,473.15 753.25,240.65 753.75,320.5 753.75,506.33 754.25,484.92 754.25,316.7 754.75,265.62 754.75,488.01 755.25,446.72 755.25,292.15 755.75,314.1 755.75,499.96 756.25,474.47 756.25,208 756.75,302.76 756.75,434.8 757.25,431.25 757.25,284.7 757.75,266.37 757.75,440.08 758.25,471.73 758.25,249.31 758.75,323.54 758.75,525 759.25,506.15 759.25,281.22 759.75,287.2 759.75,470.27 760.25,417.67 760.25,291.39 760.75,230 760.75,423.75 761.25,420.32 761.25,318.89 761.75,245.81 761.75,436.39 762.25,462.61 762.25,193.4 762.75,242.33 762.75,451.84 763.25,426.51 763.25,260.8 763.75,246.75 763.75,436.86 764.25,462.92 764.25,323.78 764.75,269.58 764.75,450.41 765.25,480.4 765.25,310.05 765.75,304.96 765.75,454.75 766.25,498.59 766.25,300.82 766.75,281.3 766.75,479.84 767.25,456.67 767.25,278.16 767.75,243.31 767.75,447.47 768.25,437.72 768.25,333.5 768.75,310.33 768.75,443.11 769.25,447.28 769.25,298.25 769.75,256.21 769.75,447.68 770.25,435.14 770.25,284.65 770.75,287.56 770.75,517 771.25,429.5 771.25,264.36 771.75,275.68 771.75,496.65 772.25,460.72 772.25,303.26 772.75,320 772.75,427.86 773.25,445.48 773.25,291.21 773.75,244.29 773.75,440.62 774.25,433.35 774.25,280.73 774.75,324.37 774.75,455.7 775.25,435.47 775.25,292.8 775.75,296.69 775.75,432.99 776.25,473.69 776.25,282.04 776.75,281.65 776.75,452.22 777.25,470.78 777.25,292.08 777.75,184 777.75,454.96 778.25,457.34 778.25,295.05 778.75,279.42 778.75,560 779.25,452 779.25,242.8 779.75,270.58 779.75,455.72 780.25,446.44 780.25,290.6 780.75,256.75 780.75,540.6 781.25,440.01 781.25,289.54 781.75,314.59 781.75,438.2 782.25,446.57 782.25,303.78 782.75,315.9 782.75,483.14 783.25,492.64 783.25,254.17 783.75,302.74 783.75,461.83 784.25,532.6 784.25,251.13 784.75,212 784.75,468.68 785.25,489.09 785.25,287.79 785.75,320.01 785.75,439.77 786.25,470.37 786.25,260.92 786.75,209.4 786.75,474.46 787.25,449.6 787.25,236.43 787.75,245.03 787.75,432.42 788.25,465.17 788.25,302.34 788.75,315.86 788.75,437.46 789.25,448.13 789.25,318.03 789.75,314.48 789.75,460.28 790.25,468.55 790.25,316.14 790.75,312.19 790.75,432.56 791.25,425.5 791.25,318.08 791.75,201 791.75,459.86 792.25,434.24 792.25,277.05 792.75,234.63 792.75,421.79 793.25,554 793.25,258.83 793.75,312.95 793.75,418.3 794.25,460.77 794.25,290.13 794.75,289.06 794.75,430.18 795.25,469.6 795.25,307.65 795.75,225.4 795.75,447.67 796.25,469.19 796.25,287.66 796.75,234.95 796.75,440.83 797.25,425.65 797.25,295.7 797.75,305.25 797.75,435.36 798.25,441.89 798.25,284.18 798.75,301.15 798.75,434.04 799.25,436.6 799.25,278.67 799.75,320.27 799.75,460.26 800.25,452.76 800.25,309.3 800.75,320.37 800.75,488.9 801.25,456.89 801.25,269.97 801.75,303.03 801.75,459.91 802.25,474.49 802.25,239.19 802.75,240.96 802.75,493.7 803.25,463.35 803.25,305.05 803.75,305.65 803.75,522 804.25,454.22 804.25,337.72 804.75,169 804.75,419.34 805.25,464.96 805.25,256.4 805.75,263.91 805.75,424.44 806.25,459.92 806.25,323.45 806.75,270.96 806.75,432.84 807.25,494.09 807.25,234.07 807.75,309.76 807.75,427.77 808.25,469.63 808.25,269.52 808.75,248.07 808.75,473.85 809.25,441.98 809.25,252.18 809.75,298.5 809.75,463.99 810.25,445.62 810.25,318.7 810.75,268.25 810.75,440.88 811.25,440.93 811.25,315.03 811.75,204 811.75,415.26 812.25,544 812.25,294.16 812.75,283.87 812.75,425.28 813.25,436.5 813.25,286.83 813.75,308.32 813.75,427 814.25,485.75 814.25,303.67 814.75,248.56 814.75,459.18 815.25,454.78 815.25,235.71 815.75,178.6 815.75,463.24 816.25,486.33 816.25,300.65 816.75,315.98 816.75,466.55 817.25,458 817.25,234.54 817.75,217 817.75,510 818.25,458.25 818.25,335.2 818.75,241.87 818.75,463.13 819.25,462.2 819.25,280.73 819.75,274.07 819.75,455.46 820.25,501 820.25,267.6 820.75,326.09 820.75,423.03 821.25,424.22 821.25,319.48 821.75,288.47 821.75,483.7 822.25,423.99 822.25,324.84 822.75,288.14 822.75,422.51 823.25,417.55 823.25,267.24 823.75,275.45 823.75,412.92 824.25,462.75 824.25,279.15 824.75,211 824.75,431.82 825.25,461.55 825.25,307.07 825.75,239.93 825.75,470.02 826.25,415.16 826.25,316.29 826.75,285.95 826.75,496.97 827.25,440.44 827.25,324.87 827.75,278.9 827.75,460.99 828.25,447.19 828.25,312.07 828.75,211 828.75,446.5 829.25,535 829.25,284.9 829.75,269.23 829.75,409.02 830.25,452.16 830.25,164 830.75,267.23 830.75,441.29 831.25,447.43 831.25,299.26 831.75,321.39 831.75,433.89 832.25,445.95 832.25,270.45 832.75,301.54 832.75,473.41 833.25,430.09 833.25,331.96 833.75,262.49 833.75,436.51 834.25,496.26 834.25,311.7 834.75,291.38 834.75,465.77 835.25,428.45 835.25,286.76 835.75,279.34 835.75,414.87 836.25,500 836.25,311.67 836.75,272.53 836.75,550 837.25,428.97 837.25,296.15 837.75,269.63 837.75,469.28 838.25,474.13 838.25,290.9 838.75,294.7 838.75,502.66 839.25,552 839.25,298 839.75,288.95 839.75,444.44 840.25,552 840.25,303.87 840.75,306.67 840.75,437.07 841.25,467.5 841.25,314.01 841.75,292.79 841.75,415.5 842.25,426.75 842.25,303.02 842.75,253.03 842.75,449.36 843.25,447.06 843.25,251.04 843.75,215.4 843.75,426.25 844.25,464.15 844.25,278.93 844.75,238.6 844.75,472.28 845.25,442.08 845.25,298.45 845.75,284.27 845.75,476.27 846.25,504.09 846.25,292.55 846.75,276.12 846.75,441.67 847.25,509.47 847.25,313.35 847.75,317.2 847.75,478.63 848.25,468.4 848.25,311.1 848.75,311.85 848.75,436.28 849.25,442.13 849.25,310.22 849.75,317.15 849.75,428.51 850.25,502.83 850.25,246.51 850.75,300.72 850.75,486.43 851.25,426.96 851.25,270.38 851.75,305.08 851.75,459.29 852.25,550 852.25,287.81 852.75,273.12 852.75,480.67 853.25,462.45 853.25,309.73 853.75,323.24 853.75,491.95 854.25,476.27 854.25,260.27 854.75,257.62 854.75,516 855.25,448.44 855.25,274.67 855.75,205 855.75,462.69 856.25,507.26 856.25,275.38 856.75,320.37 856.75,527 857.25,435.82 857.25,274.97 857.75,282.55 857.75,442.53 858.25,440.14 858.25,279.1 858.75,292.31 858.75,433.21 859.25,519 859.25,196 859.75,268.43 859.75,440.2 860.25,457.8 860.25,291.08 860.75,266.17 860.75,502.45 861.25,443.39 861.25,298.1 861.75,319.93 861.75,529 862.25,462.16 862.25,285.24 862.75,278.61 862.75,470.95 863.25,433.05 863.25,232.46 863.75,242.46 863.75,459.34 864.25,436.72 864.25,323.8 864.75,214 864.75,447.87 865.25,445.23 865.25,305.28 865.75,271.52 865.75,487.31 866.25,439.16 866.25,297.04 866.75,301.01 866.75,459.96 867.25,463.42 867.25,289.33 867.75,286.16 867.75,445.62 868.25,513.08 868.25,271.8 868.75,277.26 868.75,445.77 869.25,445.38 869.25,273.44 869.75,296.72 869.75,472.74 870.25,455.59 870.25,273.53 870.75,299.4 870.75,449.84 871.25,433.08 871.25,279.93 871.75,291.41 871.75,432.69 872.25,449.4 872.25,283.63 872.75,331.79 872.75,449.48 873.25,494.4 873.25,288.55 873.75,308.3 873.75,439.12 874.25,506.6 874.25,296.6 874.75,321.58 874.75,495.58 875.25,447.71 875.25,275.5 875.75,240.99 875.75,429.31 876.25,438.19 876.25,298.76 876.75,318.08 876.75,481.15 877.25,441.32 877.25,278.83 877.75,232 877.75,461.13 878.25,490.41 878.25,298.99 878.75,316.37 878.75,465.42 879.25,479.13 879.25,299.94 879.75,293.96 879.75,411.99 880.25,443.59 880.25,316.8 880.75,301.24 880.75,498.26 881.25,557.4 881.25,304.29 881.75,269.82 881.75,436.82 882.25,431.33 882.25,267.45 882.75,298.19 882.75,445.49 883.25,431.81 883.25,260.3 883.75,314.73 883.75,481.42 884.25,461.25 884.25,282.25 884.75,293.32 884.75,421.48 885.25,498.71 885.25,303.38 885.75,205 885.75,464.25 886.25,453.11 886.25,266.05 886.75,315.3 886.75,432.09 887.25,516 887.25,303.08 887.75,229 887.75,508.94 888.25,463.33 888.25,300.57 888.75,279.59 888.75,454.22 889.25,465.23 889.25,246.21 889.75,283.89 889.75,460.73 890.25,466.51 890.25,266.74 890.75,276.63 890.75,436.64 891.25,432.74 891.25,308.21 891.75,297.67 891.75,414.08 892.25,489.95 892.25,278.54 892.75,230.79 892.75,408.53 893.25,440.69 893.25,302.42 893.75,204 893.75,463.4 894.25,457.04 894.25,330.42 894.75,271.57 894.75,504.33 895.25,546.4 895.25,292.55 895.75,259.3 895.75,429.7 896.25,433.69 896.25,145.4 896.75,275.24 896.75,456.9 897.25,443.06 897.25,273.95 897.75,189 897.75,453.96 898.25,472.28 898.25,310.71 898.75,295.41 898.75,445.06 899.25,470.15 899.25,266.21 899.75,310.66 899.75,416.4 900.25,460.41 900.25,319.68 900.75,201.4 900.75,505.94 901.25,514.89 901.25,307.22 901.75,258.88 901.75,462.35 902.25,420.25 902.25,256.33 902.75,311.51 902.75,439.25 903.25,443.48 903.25,252.53 903.75,276.38 903.75,509 904.25,457.69 904.25,318.34 904.75,318.55 904.75,488 905.25,453.42 905.25,312.98 905.75,316.92 905.75,422.08 906.25,473.45 906.25,314.55 906.75,254.23 906.75,438.35 907.25,499.61 907.25,198.6 907.75,274.01 907.75,437.59 908.25,443.36 908.25,287.16 908.75,299.92 908.75,431.78 909.25,443.81 909.25,300.68 909.75,313.41 909.75,464.65 910.25,441.45 910.25,289.09 910.75,297.79 910.75,422.14 911.25,463.48 911.25,294.11 911.75,250.32 911.75,477.12 912.25,429.22 912.25,273.12 912.75,273.24 912.75,513.4 913.25,424.85 913.25,279.76 913.75,308.46 913.75,415.6 914.25,432.05 914.25,287.87 914.75,319.4 914.75,426.7 915.25,428.81 915.25,296.12 915.75,303.44 915.75,414.45 916.25,425.93 916.25,320.14 916.75,264.67 916.75,433.07 917.25,451.37 917.25,247.56 917.75,232 917.75,457.11 918.25,440.07 918.25,259.31 918.75,292.73 918.75,440.43 919.25,422.81 919.25,298.85 919.75,288.03 919.75,505 920.25,418.6 920.25,310.23 920.75,227.4 920.75,431.77 921.25,475.96 921.25,302.17 921.75,287.49 921.75,454.11 922.25,457.91 922.25,300.11 922.75,307.64 922.75,443.27 923.25,433.75 923.25,291.43 923.75,314.88 923.75,485.03 924.25,430.6 924.25,283.57 924.75,250.01 924.75,443.36 925.25,479.03 925.25,276.42 925.75,293.67 925.75,534.6 926.25,423.91 926.25,310.03 926.75,317.96 926.75,434.86 927.25,459.04 927.25,318.22 927.75,299.14 927.75,459.8 928.25,457.09 928.25,295.12 928.75,230.2 928.75,481.75 929.25,421.77 929.25,285.72 929.75,232.6 929.75,460.39 930.25,483.75 930.25,268.99 930.75,314.2 930.75,422.48 931.25,572.6 931.25,284.36 931.75,313.08 931.75,452.96 932.25,450.55 932.25,326.71 932.75,257.43 932.75,459.78 933.25,466.6 933.25,299.92 933.75,310.63 933.75,473.83 934.25,556.6 934.25,318.41 934.75,275.95 934.75,469.37 935.25,479.33 935.25,291.3 935.75,176.2 935.75,470.12 936.25,441.57 936.25,269.61 936.75,305.61 936.75,432.62 937.25,425.17 937.25,261.71 937.75,289.3 937.75,548.6 938.25,430.18 938.25,285.77 938.75,291.58 938.75,471.85 939.25,472.44 939.25,273.67 939.75,294.56 939.75,465.55 940.25,449.11 940.25,259.28 940.75,322.17 940.75,454.54 941.25,440.91 941.25,288.85 941.75,223.4 941.75,509.36 942.25,415.27 942.25,318.35 942.75,310.19 942.75,445.01 943.25,462.42 943.25,306.23 943.75,256.32 943.75,435.27 944.25,504 944.25,266.23 944.75,250.07 944.75,455.69 945.25,448.3 945.25,271.35 945.75,187 945.75,424.16 946.25,442.38 946.25,296.23 946.75,292.76 946.75,463.74 947.25,442.39 947.25,303.01 947.75,294.12 947.75,571.4 948.25,462.95 948.25,135.4 948.75,321.34 948.75,443.9 949.25,492.43 949.25,304.19 949.75,290 949.75,571.4 950.25,475.67 950.25,273.64 950.75,276.52 950.75,501.45 951.25,634 951.25,268.53 951.75,318.06 951.75,445.58 952.25,462.13 952.25,311.33 952.75,212 952.75,440.87 953.25,436.83 953.25,303.83 953.75,264.93 953.75,519 954.25,429.42 954.25,248.57 954.75,272.96 954.75,439.51 955.25,438.5 955.25,327.9 955.75,302.72 955.75,519 956.25,440.37 956.25,258.52 956.75,231.54 956.75,557 957.25,451.68 957.25,281 957.75,299.16 957.75,436.79 958.25,472.42 958.25,298.73 958.75,277.66 958.75,438.29 959.25,461.22 959.25,247.82 959.75,299.71 959.75,434.92 960.25,455.8 960.25,310.54 960.75,337.72 960.75,496.37 961.25,443.86 961.25,314.98 961.75,250.42 961.75,459.01 962.25,452.82 962.25,278.45 962.75,161.8 962.75,535.4 963.25,416.68 963.25,322.13 963.75,297.97 963.75,491.74 964.25,446.31 964.25,259.59 964.75,275.09 964.75,472.11 965.25,451.09 965.25,322.49 965.75,232 965.75,491.03 966.25,436.35 966.25,277.28 966.75,272.49 966.75,455.92 967.25,460.57 967.25,200.6 967.75,310.74 967.75,484.26 968.25,418.77 968.25,284.54 968.75,290.91 968.75,615.4 969.25,455.32 969.25,269.38 969.75,285.83 969.75,463.68 970.25,432.14 970.25,320.75 970.75,307.06 970.75,460.21 971.25,472.82 971.25,322.98 971.75,310.54 971.75,476.91 972.25,438.47 972.25,309.8 972.75,294.58 972.75,452.97 973.25,443.51 973.25,301.04 973.75,298.21 973.75,449.42 974.25,447.8 974.25,256.39 974.75,330.66 974.75,459.1 975.25,414.41 975.25,207.8 975.75,257.8 975.75,561 976.25,419.51 976.25,285.89 976.75,292.89 976.75,426 977.25,437.16 977.25,304.85 977.75,285.25 977.75,442.76 978.25,593 978.25,308.18 978.75,233.4 978.75,491.52 979.25,515.02 979.25,255.23 979.75,301.03 979.75,449.56 980.25,415.26 980.25,329.83 980.75,242.48 980.75,466.7 981.25,503.72 981.25,302.64 981.75,275.5 981.75,609 982.25,489.3 982.25,227 982.75,259.2 982.75,406.58 983.25,476.83 983.25,248.17 983.75,289.26 983.75,456.58 984.25,506.21 984.25,252.08 984.75,291.3 984.75,497.99 985.25,421.84 985.25,305.1 985.75,289.86 985.75,456.93 986.25,439.72 986.25,300.09 986.75,263.48 986.75,452.88 987.25,424.6 987.25,253.94 987.75,314.65 987.75,447.64 988.25,450.81 988.25,312.66 988.75,224 988.75,532 989.25,455.28 989.25,291.14 989.75,239.42 989.75,502.55 990.25,423.89 990.25,289.06 990.75,317.99 990.75,467.26 991.25,456.31 991.25,267.99 991.75,273.54 991.75,437.49 992.25,464.09 992.25,304.63 992.75,210 992.75,455.21 993.25,452.71 993.25,337.72 993.75,253.73 993.75,448.69 994.25,499.39 994.25,304.23 994.75,320.91 994.75,431.15 995.25,437.48 995.25,301.46 995.75,300.94 995.75,578 996.25,424.11 996.25,268.64 996.75,212 996.75,492.02 997.25,456.26 997.25,307.55 997.75,240.2 997.75,464.7 998.25,500.33 998.25,249.7 998.75,278.05 998.75,456.69 999.25,442.05 999.25,223 999.75,308.1 999.75,459.3 1000.25,457.07 1000.25,245.46 1000.75,264.29 1000.75,443.56 1001.25,439 1001.25,155 1001.75,312.94 1001.75,447.46 1002.25,477.13 1002.25,308.61 1002.75,297.05 1002.75,434.08 1003.25,436.85 1003.25,300.38 1003.75,323.25 1003.75,439.24 1004.25,441.81 1004.25,295.17 1004.75,292.19 1004.75,430.52 1005.25,449.7 1005.25,303.45 1005.75,296.71 1005.75,448.38 1006.25,471.7 1006.25,143 1006.75,297.22 1006.75,502.91 1007.25,429.91 1007.25,278.94 1007.75,288.66 1007.75,424.86 1008.25,426.38 1008.25,310 1008.75,259.65 1008.75,517.4 1009.25,424.09 1009.25,287.47 1009.75,291.5 1009.75,502.07 1010.25,448.48 1010.25,269.81 1010.75,265.36 1010.75,473.55 1011.25,418.11 1011.25,250.82 1011.75,257.27 1011.75,473.18 1012.25,438.61 1012.25,274.35 1012.75,268.96 1012.75,453.7 1013.25,470.94 1013.25,313.27 1013.75,271.31 1013.75,547.4 1014.25,459.01 1014.25,305.77 1014.75,305.53 1014.75,490.59 1015.25,433.93 1015.25,316.59 1015.75,295.83 1015.75,454.8 1016.25,435.53 1016.25,331.08 1016.75,275.5 1016.75,432.29 1017.25,456.35 1017.25,265.85 1017.75,262.38 1017.75,454.05 1018.25,468.24 1018.25,315.77 1018.75,276.97 1018.75,548 1019.25,474.13 1019.25,187.8 1019.75,327.32 1019.75,446.04 1020.25,456.08 1020.25,310.33 1020.75,304.82 1020.75,470.94 1021.25,491.1 1021.25,291.24 1021.75,312.02 1021.75,471.79 1022.25,505 1022.25,225.8 1022.75,299.5 1022.75,431.45 1023.25,496.59 1023.25,275.67 1023.75,286.1 1023.75,442.4 1024.25,450.58 1024.25,272.64 1024.75,306.36 1024.75,500.13 1025.25,437.25 1025.25,270.49 1025.75,267.43 1025.75,507.86 1026.25,438.81 1026.25,268.87 1026.75,176.6 1026.75,427.03 1027.25,458.03 1027.25,304.51 1027.75,282.5 1027.75,484.5 1028.25,450.4 1028.25,304.5 1028.75,293.22 1028.75,491.79 1029.25,450 1029.25,218.6 1029.75,287.13 1029.75,487.33 1030.25,429.59 1030.25,306.24 1030.75,305.02 1030.75,563.4 1031.25,430.48 1031.25,298.14 1031.75,261.66 1031.75,477.63 1032.25,454.94 1032.25,292.99 1032.75,326.81 1032.75,469.28 1033.25,439.46 1033.25,201.4 1033.75,309.71 1033.75,531 1034.25,438.42 1034.25,333.63 1034.75,217 1034.75,426.13 1035.25,444.89 1035.25,302.99 1035.75,285.62 1035.75,496.82 1036.25,493.37 1036.25,298.51 1036.75,324.36 1036.75,497.37 1037.25,438.63 1037.25,238.99 1037.75,297.07 1037.75,516 1038.25,426.91 1038.25,310.88 1038.75,294.36 1038.75,452.31 1039.25,462.68 1039.25,297.45 1039.75,312.43 1039.75,440.85 1040.25,451.72 1040.25,275.05 1040.75,261.51 1040.75,448.01 1041.25,426.75 1041.25,264.42 1041.75,273.74 1041.75,424.88 1042.25,482.61 1042.25,331.81 1042.75,312.78 1042.75,408.18 1043.25,439.02 1043.25,313.82 1043.75,314.4 1043.75,528.6 1044.25,486.66 1044.25,309.81 1044.75,310.5 1044.75,455.52 1045.25,407.61 1045.25,252.36 1045.75,330.08 1045.75,429.89 1046.25,444.88 1046.25,304.76 1046.75,303.25 1046.75,435.32 1047.25,423.85 1047.25,294.02 1047.75,307.74 1047.75,508.83 1048.25,506.78 1048.25,325.34 1048.75,294.47 1048.75,480.84 1049.25,509 1049.25,276.19 1049.75,313.59 1049.75,493.5 1050.25,487.95 1050.25,252.54 1050.75,155 1050.75,445.21 1051.25,430.95 1051.25,270.78 1051.75,312.88 1051.75,431.64 1052.25,450.84 1052.25,243.92 1052.75,309.72 1052.75,490 1053.25,425.81 1053.25,267.81 1053.75,252.72 1053.75,452.22 1054.25,447.25 1054.25,305.74 1054.75,220.2 1054.75,501.99 1055.25,433.09 1055.25,281.73 1055.75,288.53 1055.75,469.28 1056.25,445.17 1056.25,289.98 1056.75,261.6 1056.75,593 1057.25,488.42 1057.25,291.16 1057.75,290.04 1057.75,488.8 1058.25,492.27 1058.25,289.4 1058.75,291.77 1058.75,443.15 1059.25,442.03 1059.25,295.22 1059.75,312.95 1059.75,430.5 1060.25,440.63 1060.25,302.88 1060.75,305.02 1060.75,430.2 1061.25,482.99 1061.25,306.23 1061.75,261.4 1061.75,421.97 1062.25,548.6 1062.25,317.18 1062.75,309.4 1062.75,483.8 1063.25,481.02 1063.25,286.47 1063.75,225.4 1063.75,452.77 1064.25,449.16 1064.25,306.81 1064.75,297.46 1064.75,421.62 1065.25,486.31 1065.25,288.31 1065.75,273.83 1065.75,442.73 1066.25,481.6 1066.25,295.46 1066.75,191.8 1066.75,416.32 1067.25,419.84 1067.25,293.52 1067.75,291.98 1067.75,544 1068.25,471.92 1068.25,294.52 1068.75,306.9 1068.75,461.6 1069.25,459.37 1069.25,310.44 1069.75,322.23 1069.75,464.34 1070.25,431.23 1070.25,309.44 1070.75,275.02 1070.75,424.26 1071.25,446.91 1071.25,281.45 1071.75,185 1071.75,460.53 1072.25,440.19 1072.25,319.29 1072.75,294.96 1072.75,435.14 1073.25,453.35 1073.25,280.89 1073.75,319.57 1073.75,450.89 1074.25,441.54 1074.25,241.67 1074.75,318.29 1074.75,512.21 1075.25,484.46 1075.25,296.03 1075.75,243 1075.75,421.88 1076.25,455.66 1076.25,325.02 1076.75,238.11 1076.75,439.42 1077.25,446.03 1077.25,226.4 1077.75,307.31 1077.75,418.56 1078.25,426.24 1078.25,328.15 1078.75,291.97 1078.75,419.59 1079.25,430.77 1079.25,322.96 1079.75,308.89 1079.75,468.72 1080.25,426.04 1080.25,335.63 1080.75,312.48 1080.75,500.45 1081.25,485.52 1081.25,309.56 1081.75,202.6 1081.75,441.58 1082.25,518.6 1082.25,288.53 1082.75,321.3 1082.75,422.7 1083.25,428.22 1083.25,239.26 1083.75,272.5 1083.75,425.58 1084.25,508 1084.25,297.7 1084.75,147.8 1084.75,423.41 1085.25,421.73 1085.25,259.42 1085.75,300.71 1085.75,425.02 1086.25,431.21 1086.25,251.17 1086.75,300.87 1086.75,428.82 1087.25,451.76 1087.25,278.86 1087.75,212 1087.75,512.6 1088.25,446.83 1088.25,239.08 1088.75,291.61 1088.75,444.71 1089.25,514.23 1089.25,299.27 1089.75,320.1 1089.75,463.26 1090.25,462.25 1090.25,247.05 1090.75,274.75 1090.75,438.33 1091.25,468.01 1091.25,307.41 1091.75,283.3 1091.75,448.87 1092.25,460.23 1092.25,301.98 1092.75,233.35 1092.75,450.09 1093.25,529 1093.25,299.62 1093.75,310.11 1093.75,498.58 1094.25,472.66 1094.25,325.99 1094.75,299.6 1094.75,442.15 1095.25,444.07 1095.25,320.15 1095.75,308.42 1095.75,442.4 1096.25,431.64 1096.25,291.52 1096.75,278.27 1096.75,444.02 1097.25,445.3 1097.25,336.51 1097.75,302.89 1097.75,548.6 1098.25,441.26 1098.25,255.7 1098.75,319.05 1098.75,443.24 1099.25,494.55 1099.25,257.36 1099.75,253.45 1099.75,453.34 1100.25,488.05 1100.25,314.49 1100.75,281.22 1100.75,422.34 1101.25,435.86 1101.25,284.21 1101.75,271.88 1101.75,436.71 1102.25,422.42 1102.25,302.07 1102.75,296.72 1102.75,424.99 1103.25,458.34 1103.25,306.76 1103.75,303.11 1103.75,442.96 1104.25,436.29 1104.25,311.73 1104.75,237.99 1104.75,465.28 1105.25,465.31 1105.25,242.54 1105.75,298.39 1105.75,435.83 1106.25,459.88 1106.25,201.4 1106.75,289.18 1106.75,451.15 1107.25,446.61 1107.25,303.9 1107.75,299.11 1107.75,424.87 1108.25,439.09 1108.25,264.09 1108.75,299.67 1108.75,511.4 1109.25,419.56 1109.25,282.35 1109.75,212 1109.75,492.3 1110.25,478.67 1110.25,302.72 1110.75,257.62 1110.75,445.51 1111.25,481.8 1111.25,317.17 1111.75,229 1111.75,440.2 1112.25,486.74 1112.25,257.97 1112.75,252.94 1112.75,437.57 1113.25,410.78 1113.25,322.47 1113.75,270.07 1113.75,424.85 1114.25,454.19 1114.25,296.72 1114.75,304.07 1114.75,420.49 1115.25,425.57 1115.25,286.84 1115.75,308.74 1115.75,537 1116.25,462.12 1116.25,320.41 1116.75,292.88 1116.75,466.73 1117.25,451.45 1117.25,269.12 1117.75,261.99 1117.75,500.4 1118.25,474.77 1118.25,331.97 1118.75,243.96 1118.75,452.27 1119.25,542 1119.25,306.29 1119.75,303.09 1119.75,432.38 1120.25,444.65 1120.25,253.82 1120.75,240.8 1120.75,447.15 1121.25,426.28 1121.25,267.22 1121.75,300.27 1121.75,511.48 1122.25,440.81 1122.25,291.18 1122.75,253.44 1122.75,459.95 1123.25,424.58 1123.25,298.57 1123.75,258.18 1123.75,460.84 1124.25,468.43 1124.25,261.51 1124.75,290.76 1124.75,426.2 1125.25,447.42 1125.25,240.18 1125.75,296.69 1125.75,433.91 1126.25,441.15 1126.25,265.63 1126.75,235 1126.75,477.29 1127.25,529.4 1127.25,321.09 1127.75,322.1 1127.75,498.36 1128.25,439.45 1128.25,325.9 1128.75,158.6 1128.75,444.57 1129.25,472.71 1129.25,320.54 1129.75,328.03 1129.75,494.95 1130.25,499.95 1130.25,301.59 1130.75,327.03 1130.75,442.85 1131.25,459.28 1131.25,311 1131.75,286.08 1131.75,450.97 1132.25,471.16 1132.25,316.06 1132.75,255.8 1132.75,434.45 1133.25,436.12 1133.25,293.31 1133.75,269.83 1133.75,442.05 1134.25,595 1134.25,254.7 1134.75,285.58 1134.75,435.8 1135.25,446.03 1135.25,324.93 1135.75,255.49 1135.75,513.3 1136.25,454.01 1136.25,271.85 1136.75,236.28 1136.75,465.9 1137.25,513.56 1137.25,208 1137.75,261.07 1137.75,450.02 1138.25,424.51 1138.25,245.9 1138.75,298.73 1138.75,443.12 1139.25,527 1139.25,196.6 1139.75,300.19 1139.75,428.61 1140.25,472.71 1140.25,337.18 1140.75,307.44 1140.75,449.01 1141.25,490.23 1141.25,300.36 1141.75,164.2 1141.75,459.43 1142.25,472.07 1142.25,263.68 1142.75,293.73 1142.75,539 1143.25,463.55 1143.25,283.2 1143.75,188 1143.75,473.28 1144.25,448.71 1144.25,298.36 1144.75,265.2 1144.75,456.41 1145.25,491.94 1145.25,290.67 1145.75,280.87 1145.75,513.01 1146.25,446.97 1146.25,187.4 1146.75,284.09 1146.75,424.69 1147.25,457.11 1147.25,239.96 1147.75,304.85 1147.75,453.41 1148.25,444.91 1148.25,287.03 1148.75,272.54 1148.75,459.04 1149.25,448.13 1149.25,320.04 1149.75,323.36 1149.75,462.09 1150.25,460.53 1150.25,302.08 1150.75,309.3 1150.75,474.82 1151.25,526 1151.25,309.93 1151.75,225 1151.75,444 1152.25,425.05 1152.25,305.83 1152.75,306.47 1152.75,447.29 1153.25,442.57 1153.25,319.8 1153.75,206 1153.75,445.49 1154.25,450.57 1154.25,266.47 1154.75,234.15 1154.75,474.22 1155.25,459.3 1155.25,276.94 1155.75,280.38 1155.75,514 1156.25,488.98 1156.25,296.43 1156.75,282.92 1156.75,462.01 1157.25,508.03 1157.25,284.27 1157.75,237.81 1157.75,482.61 1158.25,494.38 1158.25,254.72 1158.75,229.4 1158.75,416.36 1159.25,415.13 1159.25,317.88 1159.75,322.56 1159.75,467.44 1160.25,445.82 1160.25,316.15 1160.75,231 1160.75,497.56 1161.25,449.7 1161.25,311.3 1161.75,302.82 1161.75,478.12 1162.25,439.99 1162.25,290.85 1162.75,255.14 1162.75,683 1163.25,504.1 1163.25,327.47 1163.75,303.17 1163.75,495.35 1164.25,448.03 1164.25,289.31 1164.75,250.36 1164.75,455.78 1165.25,459.61 1165.25,191.6 1165.75,255.39 1165.75,446.58 1166.25,455.93 1166.25,306.49 1166.75,302.33 1166.75,458.6 1167.25,499.05 1167.25,284.34 1167.75,275.78 1167.75,444.61 1168.25,471.9 1168.25,244.31 1168.75,244.45 1168.75,444.12 1169.25,447.74 1169.25,306.08 1169.75,266.15 1169.75,492.8 1170.25,423.85 1170.25,277.52 1170.75,296.58 1170.75,417.31 1171.25,421.09 1171.25,262.31 1171.75,214.6 1171.75,420.96 1172.25,421.17 1172.25,289.99 1172.75,234.38 1172.75,425.96 1173.25,467.31 1173.25,315.88 1173.75,312.51 1173.75,427.34 1174.25,464.76 1174.25,263.85 1174.75,302.16 1174.75,521 1175.25,478.31 1175.25,281.8 1175.75,288.68 1175.75,494.34 1176.25,443.2 1176.25,314.25 1176.75,265.1 1176.75,429.89 1177.25,487.62 1177.25,266.64 1177.75,314.3 1177.75,417.94 1178.25,439.09 1178.25,305.39 1178.75,258.88 1178.75,439.36 1179.25,481.85 1179.25,235.63 1179.75,227 1179.75,519 1180.25,490.94 1180.25,288.32 1180.75,297.88 1180.75,452.68 1181.25,450.6 1181.25,292.43 1181.75,311.68 1181.75,446.7 1182.25,447.32 1182.25,288.76 1182.75,307.49 1182.75,442.04 1183.25,447.3 1183.25,312.87 1183.75,296.96 1183.75,572.6 1184.25,427.82 1184.25,322.86 1184.75,290.63 1184.75,426.63 1185.25,420.76 1185.25,271.63 1185.75,276.02 1185.75,426.29 1186.25,422.53 1186.25,240.47 1186.75,242.94 1186.75,477.83 1187.25,472.21 1187.25,277.63 1187.75,239.89 1187.75,442.1 1188.25,538 1188.25,292.49 1188.75,259.13 1188.75,417.32 1189.25,440.14 1189.25,303.64 1189.75,286.45 1189.75,441.87 1190.25,437.25 1190.25,294.83 1190.75,280.68 1190.75,422.46 1191.25,434.48 1191.25,287.95 1191.75,260.78 1191.75,446.94 1192.25,427.56 1192.25,301.69 1192.75,254.06 1192.75,437.2 1193.25,452.79 1193.25,331.48 1193.75,151.6 1193.75,492.73 1194.25,497.26 1194.25,311.61 1194.75,305.56 1194.75,450.58 1195.25,430.79 1195.25,297.51 1195.75,329.99 1195.75,441.57 1196.25,471.04 1196.25,302.64 1196.75,296 1196.75,520 1197.25,462.23 1197.25,270.91 1197.75,262.61 1197.75,477.32 1198.25,469.57 1198.25,296.78 1198.75,308.29 1198.75,494.84 1199.25,426.86 1199.25,225 1199.75,316.4 1199.75,443.43 1200.25,419.7 1200.25,322.71 1200.75,307.44 1200.75,458.57 1201.25,542 1201.25,289.01 1201.75,316.65 1201.75,440.54 1202.25,423.17 1202.25,268.09 1202.75,283.54 1202.75,454.54 1203.25,434.27 1203.25,286.87 1203.75,271.91 1203.75,436.31 1204.25,449.01 1204.25,278.28 1204.75,300.03 1204.75,440.02 1205.25,447.6 1205.25,319.38 1205.75,309.75 1205.75,474.4 1206.25,448.42 1206.25,261.41 1206.75,277.57 1206.75,450.59 1207.25,432.02 1207.25,259.38 1207.75,325.78 1207.75,435.57 1208.25,481.28 1208.25,239.01 1208.75,296.85 1208.75,452.19 1209.25,442.66 1209.25,230.87 1209.75,281.04 1209.75,513 1210.25,498.68 1210.25,284.86 1210.75,235.4 1210.75,441.24 1211.25,452.53 1211.25,278.37 1211.75,273.8 1211.75,461.97 1212.25,434.15 1212.25,313.23 1212.75,282.74 1212.75,452.06 1213.25,442.57 1213.25,298.63 1213.75,321.36 1213.75,486.63 1214.25,427.8 1214.25,315.37 1214.75,289.95 1214.75,456.29 1215.25,439.26 1215.25,198.4 1215.75,263.71 1215.75,539 1216.25,425.73 1216.25,316.37 1216.75,333.08 1216.75,507.56 1217.25,489.35 1217.25,308.34 1217.75,301.64 1217.75,506 1218.25,459.08 1218.25,287.73 1218.75,309.05 1218.75,449.62 1219.25,465.06 1219.25,309.14 1219.75,295.46 1219.75,446.02 1220.25,490.28 1220.25,260.43 1220.75,208.6 1220.75,438.02 1221.25,488.11 1221.25,252.97 1221.75,280.88 1221.75,441.47 1222.25,468.74 1222.25,283.92 1222.75,298.39 1222.75,452.1 1223.25,458.91 1223.25,307.27 1223.75,311.15 1223.75,458.63 1224.25,466.71 1224.25,218 1224.75,250.33 1224.75,424.81 1225.25,423.71 1225.25,337.72 1225.75,260.96 1225.75,464.51 1226.25,440.47 1226.25,274.5 1226.75,331.34 1226.75,447.39 1227.25,439.55 1227.25,322.12 1227.75,267.38 1227.75,468.4 1228.25,480.72 1228.25,273.94 1228.75,301.61 1228.75,450.42 1229.25,445.06 1229.25,248.42 1229.75,309.04 1229.75,528.6 1230.25,418.26 1230.25,293.73 1230.75,317.08 1230.75,427.31 1231.25,422.08 1231.25,276.55 1231.75,320.01 1231.75,445.23 1232.25,425.41 1232.25,311.43 1232.75,263.58 1232.75,432.12 1233.25,550.6 1233.25,288.44 1233.75,275.03 1233.75,437.24 1234.25,420.2 1234.25,198 1234.75,280.02 1234.75,490.81 1235.25,430.91 1235.25,309.99 1235.75,271.39 1235.75,431.6 1236.25,487.65 1236.25,215.4 1236.75,304.67 1236.75,439.83 1237.25,436.64 1237.25,322.75 1237.75,329.72 1237.75,427.07 1238.25,436.3 1238.25,324.42 1238.75,326.37 1238.75,489.92 1239.25,444.09 1239.25,192.6 1239.75,297.65 1239.75,461.88 1240.25,444.37 1240.25,310.97 1240.75,314.66 1240.75,446.23 1241.25,514.16 1241.25,319.53 1241.75,314.68 1241.75,506.06 1242.25,434.82 1242.25,313.49 1242.75,326.46 1242.75,475.98 1243.25,431.98 1243.25,236.71 1243.75,306.28 1243.75,443.6 1244.25,548.2 1244.25,299.34 1244.75,268.44 1244.75,468.6 1245.25,476.2 1245.25,255.1 1245.75,276.04 1245.75,478.39 1246.25,481.75 1246.25,303.33 1246.75,278.6 1246.75,449.9 1247.25,435.01 1247.25,245.04 1247.75,317.87 1247.75,409.56 1248.25,532 1248.25,204 1248.75,330.31 1248.75,514.54 1249.25,453.51 1249.25,304.69 1249.75,301.91 1249.75,465.86 1250.25,508.76 1250.25,325.52 1250.75,226 1250.75,495.44 1251.25,477.65 1251.25,272.1 1251.75,316.01 1251.75,463.96 1252.25,439 1252.25,319.61 1252.75,326.8 1252.75,478.66 1253.25,451.42 1253.25,324.22 1253.75,318.04 1253.75,474.1 1254.25,438.41 1254.25,318.54 1254.75,323.01 1254.75,447.42 1255.25,433.98 1255.25,288.31 1255.75,219 1255.75,483.88 1256.25,501.49 1256.25,316.49 1256.75,250.5 1256.75,433.01 1257.25,517.4 1257.25,266.5 1257.75,253.36 1257.75,468.29 1258.25,464.86 1258.25,282.4 1258.75,282.56 1258.75,440.54 1259.25,445.52 1259.25,286.15 1259.75,267.38 1259.75,439.23 1260.25,453.01 1260.25,300.45 1260.75,288.7 1260.75,468.6 1261.25,476.44 1261.25,290.68 1261.75,202 1261.75,474.04 1262.25,446.74 1262.25,308.58 1262.75,329.69 1262.75,446.03 1263.25,480.41 1263.25,319.84 1263.75,311.45 1263.75,498.55 1264.25,438.28 1264.25,249.23 1264.75,269.43 1264.75,451.09 1265.25,542.6 1265.25,265.62 1265.75,292.51 1265.75,506.51 1266.25,415.45 1266.25,318.31 1266.75,291 1266.75,501.99 1267.25,480.89 1267.25,248.07 1267.75,287.78 1267.75,445.75 1268.25,471.57 1268.25,277.8 1268.75,297.41 1268.75,448.24 1269.25,467.64 1269.25,313.87 1269.75,278.27 1269.75,451.93 1270.25,508.22 1270.25,289.57 1270.75,299.38 1270.75,454.11 1271.25,486.92 1271.25,305.48 1271.75,271.65 1271.75,462.69 1272.25,448.42 1272.25,301.3 1272.75,186 1272.75,474.54 1273.25,436.38 1273.25,305.39 1273.75,265.2 1273.75,506.18 1274.25,464.47 1274.25,297.35 1274.75,290.04 1274.75,492.91 1275.25,465.41 1275.25,287.08 1275.75,269.26 1275.75,466.41 1276.25,512.71 1276.25,267.24 1276.75,299.82 1276.75,452.45 1277.25,488.76 1277.25,252.43 1277.75,296.61 1277.75,481.78 1278.25,421.93 1278.25,293.55 1278.75,192.6 1278.75,420.11 1279.25,418.82 1279.25,295.04 1279.75,298.94 1279.75,425.02 1280.25,418.87 1280.25,295.9 1280.75,224.6 1280.75,424.27 1281.25,477.16 1281.25,316.15 1281.75,242.87 1281.75,447.28 1282.25,506.24 1282.25,258.93 1282.75,314.54 1282.75,426.14 1283.25,434.64 1283.25,306.63 1283.75,282.65 1283.75,490.69 1284.25,451.47 1284.25,264.04 1284.75,313.98 1284.75,522 1285.25,482.59 1285.25,324.75 1285.75,299.36 1285.75,439.18 1286.25,422.24 1286.25,325.86 1286.75,265.3 1286.75,441.96 1287.25,494.66 1287.25,289.53 1287.75,225.4 1287.75,455.63 1288.25,515.34 1288.25,318.97 1288.75,319.92 1288.75,559.4 1289.25,511.53 1289.25,278.02 1289.75,262.65 1289.75,443.82 1290.25,453.47 1290.25,237.07 1290.75,298.04 1290.75,467.27 1291.25,461.03 1291.25,313.64 1291.75,302.77 1291.75,470.67 1292.25,473.07 1292.25,280.09 1292.75,233.47 1292.75,441.48 1293.25,412.43 1293.25,313.45 1293.75,248.52 1293.75,475.88 1294.25,519 1294.25,270.84 1294.75,270.98 1294.75,461.7 1295.25,456.75 1295.25,252.42 1295.75,285.68 1295.75,512.71 1296.25,443.44 1296.25,287.96 1296.75,297.9 1296.75,507.31 1297.25,434.29 1297.25,247.6 1297.75,187.8 1297.75,524.6 1298.25,512.58 1298.25,312.98 1298.75,262.82 1298.75,433.19 1299.25,481.22 1299.25,304.27 1299.75,311.08 1299.75,441.84 1300.25,423.65 1300.25,310.03 1300.75,282.78 1300.75,452.33 1301.25,473.36 1301.25,162.6 1301.75,306.65 1301.75,442.54 1302.25,469.67 1302.25,318.76 1302.75,300.83 1302.75,407.33 1303.25,441.48 1303.25,262.57 1303.75,330.59 1303.75,446.39 1304.25,448.32 1304.25,289.74 1304.75,220 1304.75,443.62 1305.25,416.87 1305.25,324.94 1305.75,302.97 1305.75,437.44 1306.25,441.06 1306.25,237.38 1306.75,261.6 1306.75,470.82 1307.25,448.74 1307.25,250.58 1307.75,312.23 1307.75,475.76 1308.25,453.09 1308.25,263.86 1308.75,292.03 1308.75,446.33 1309.25,433.58 1309.25,312.15 1309.75,289.87 1309.75,438.76 1310.25,504.33 1310.25,232.07 1310.75,221 1310.75,453.95 1311.25,532.6 1311.25,296.2 1311.75,322.93 1311.75,438.05 1312.25,498.34 1312.25,239.09 1312.75,289.94 1312.75,473.89 1313.25,472.92 1313.25,287.61 1313.75,307.91 1313.75,485.8 1314.25,439.66 1314.25,299.76 1314.75,303.05 1314.75,476.69 1315.25,425.23 1315.25,301.41 1315.75,301.09 1315.75,470.12 1316.25,445.11 1316.25,227 1316.75,302.77 1316.75,469.84 1317.25,438.63 1317.25,324.91 1317.75,305.73 1317.75,447.18 1318.25,470.61 1318.25,279.4 1318.75,335.68 1318.75,517.08 1319.25,446.33 1319.25,268.25 1319.75,260.55 1319.75,434.38 1320.25,430.67 1320.25,295.29 1320.75,280.97 1320.75,470.72 1321.25,502.47 1321.25,308.23 1321.75,183.4 1321.75,547 1322.25,446.61 1322.25,270.41 1322.75,267.44 1322.75,434.37 1323.25,465.87 1323.25,289.07 1323.75,276.83 1323.75,431.35 1324.25,424.89 1324.25,247.37 1324.75,282.85 1324.75,480.96 1325.25,491.66 1325.25,220.2 1325.75,304.32 1325.75,481.68 1326.25,429.76 1326.25,331.25 1326.75,276.6 1326.75,450.77 1327.25,458.49 1327.25,240.62 1327.75,303.34 1327.75,503.6 1328.25,479.2 1328.25,306.36 1328.75,318.04 1328.75,423.79 1329.25,453.8 1329.25,286.17 1329.75,317.53 1329.75,482.29 1330.25,460.18 1330.25,310.61 1330.75,263.86 1330.75,470.29 1331.25,439.32 1331.25,322.57 1331.75,296.82 1331.75,536.6 1332.25,490.79 1332.25,310.47 1332.75,233 1332.75,462.36 1333.25,444.15 1333.25,320.55 1333.75,300.01 1333.75,433.63 1334.25,434.25 1334.25,249.43 1334.75,272.58 1334.75,467.95 1335.25,481.57 1335.25,270.88 1335.75,251.6 1335.75,554 1336.25,507.92 1336.25,330.11 1336.75,274.75 1336.75,442.83 1337.25,445.92 1337.25,266.22 1337.75,265.84 1337.75,436.44 1338.25,460.24 1338.25,269.74 1338.75,321.78 1338.75,519 1339.25,479.7 1339.25,320.37 1339.75,262.74 1339.75,452.7 1340.25,433.58 1340.25,279.57 1340.75,305.18 1340.75,491.8 1341.25,502.95 1341.25,335.04 1341.75,285.93 1341.75,480.97 1342.25,443.12 1342.25,319.63 1342.75,265.81 1342.75,449.6 1343.25,463.26 1343.25,299.72 1343.75,257.85 1343.75,509.12 1344.25,439.77 1344.25,319.07 1344.75,288.91 1344.75,451.56 1345.25,423.81 1345.25,318.63 1345.75,261.73 1345.75,408.39 1346.25,439.81 1346.25,283.86 1346.75,307.21 1346.75,486.44 1347.25,561.4 1347.25,300.41 1347.75,273.07 1347.75,455.43 1348.25,450.88 1348.25,300.02 1348.75,313.75 1348.75,441.28 1349.25,480.72 1349.25,305.8 1349.75,308.66 1349.75,456.19 1350.25,425.06 1350.25,305.91 1350.75,309.04 1350.75,466.81 1351.25,479.54 1351.25,323.05 1351.75,267.44 1351.75,425.4 1352.25,558 1352.25,185.4 1352.75,293.94 1352.75,428.3 1353.25,444.15 1353.25,277.41 1353.75,325.55 1353.75,476.4 1354.25,504.67 1354.25,308.03 1354.75,318.18 1354.75,435.57 1355.25,475.54 1355.25,266.85 1355.75,308.21 1355.75,465.6 1356.25,450.11 1356.25,288.58 1356.75,300.57 1356.75,482.94 1357.25,467.44 1357.25,307.1 1357.75,223 1357.75,438.53 1358.25,456.37 1358.25,287.9 1358.75,276.1 1358.75,561.4 1359.25,466.34 1359.25,270.77 1359.75,255.7 1359.75,439.36 1360.25,439.49 1360.25,305.14 1360.75,320.99 1360.75,543 1361.25,421.26 1361.25,290.86 1361.75,194.2 1361.75,419.46 1362.25,466.25 1362.25,330.92 1362.75,233.18 1362.75,452.54 1363.25,490.61 1363.25,208 1363.75,294.61 1363.75,466.91 1364.25,534 1364.25,315.08 1364.75,264.23 1364.75,448.85 1365.25,451.54 1365.25,285.97 1365.75,311.85 1365.75,460.43 1366.25,506.57 1366.25,337.72 1366.75,308.48 1366.75,464.57 1367.25,443.96 1367.25,301.05 1367.75,254.8 1367.75,469.95 1368.25,445.57 1368.25,286.08 1368.75,302.52 1368.75,461.08 1369.25,428.22 1369.25,275.99 1369.75,204 1369.75,461.75 1370.25,455.56 1370.25,279.13 1370.75,322.57 1370.75,468.38 1371.25,461.95 1371.25,333.17 1371.75,269.58 1371.75,462.42 1372.25,477.37 1372.25,299.58 1372.75,271.52 1372.75,431.45 1373.25,479 1373.25,261.79 1373.75,167.4 1373.75,466.52 1374.25,472.35 1374.25,279.22 1374.75,251.26 1374.75,450.21 1375.25,426.81 1375.25,275.32 1375.75,292.86 1375.75,510.49 1376.25,489.16 1376.25,240.1 1376.75,325.98 1376.75,434.44 1377.25,454.3 1377.25,304.83 1377.75,305.63 1377.75,500.17 1378.25,517.4 1378.25,305.94 1378.75,311.64 1378.75,460.68 1379.25,504.07 1379.25,299.04 1379.75,329.71 1379.75,487.27 1380.25,428.62 1380.25,311.24 1380.75,264.35 1380.75,431.48 1381.25,450.73 1381.25,174.6 1381.75,305.49 1381.75,459.42 1382.25,469.02 1382.25,292.3 1382.75,264.05 1382.75,461.78 1383.25,498.22 1383.25,292.19 1383.75,315.1 1383.75,533 1384.25,428.6 1384.25,304.73 1384.75,284.78 1384.75,446.24 1385.25,500.9 1385.25,260.25 1385.75,322.07 1385.75,479.41 1386.25,415.22 1386.25,270.51 1386.75,297.28 1386.75,466.78 1387.25,430.83 1387.25,269.09 1387.75,302.87 1387.75,457.3 1388.25,509.38 1388.25,315.65 1388.75,148.2 1388.75,425.68 1389.25,488.63 1389.25,302.85 1389.75,248.61 1389.75,455.91 1390.25,428.56 1390.25,241.58 1390.75,215 1390.75,494.86 1391.25,424.42 1391.25,265.87 1391.75,310.23 1391.75,529 1392.25,495 1392.25,298.78 1392.75,239.45 1392.75,430.1 1393.25,432 1393.25,290.36 1393.75,222 1393.75,428.81 1394.25,423.34 1394.25,262.32 1394.75,327.94 1394.75,429.93 1395.25,427.47 1395.25,304.88 1395.75,178 1395.75,438.9 1396.25,439.22 1396.25,275.77 1396.75,296.31 1396.75,451.88 1397.25,456.06 1397.25,291.01 1397.75,291.24 1397.75,472.6 1398.25,493.97 1398.25,304.06 1398.75,331.32 1398.75,465.7 1399.25,495.06 1399.25,263.55 1399.75,187 1399.75,431.28 1400.25,469.8 1400.25,252.38 1400.75,313.6 1400.75,434.64 1401.25,497.21 1401.25,221 1401.75,309.44 1401.75,464.21 1402.25,431.69 1402.25,313.73 1402.75,307.6 1402.75,521.4 1403.25,458.85 1403.25,309.75 1403.75,281.02 1403.75,456.05 1404.25,426.36 1404.25,329.13 1404.75,247 1404.75,505.83 1405.25,458.05 1405.25,239.53 1405.75,294.88 1405.75,495.84 1406.25,425.69 1406.25,305.21 1406.75,246.46 1406.75,471.5 1407.25,448.62 1407.25,260.67 1407.75,236.6 1407.75,459.7 1408.25,466.57 1408.25,296.23 1408.75,303.52 1408.75,488.98 1409.25,510.89 1409.25,306.8 1409.75,246.45 1409.75,526.6 1410.25,494.86 1410.25,233.27 1410.75,304.48 1410.75,429.97 1411.25,413.39 1411.25,306.42 1411.75,303.33 1411.75,443.72 1412.25,543.4 1412.25,306.29 1412.75,303.54 1412.75,481.34 1413.25,461.47 1413.25,308.2 1413.75,304.84 1413.75,449.46 1414.25,483.87 1414.25,304.9 1414.75,305.37 1414.75,515.54 1415.25,419.05 1415.25,287.3 1415.75,226 1415.75,424.12 1416.25,421.4 1416.25,261.73 1416.75,311.81 1416.75,626 1417.25,423.11 1417.25,155.4 1417.75,276.9 1417.75,434.93 1418.25,605 1418.25,314.93 1418.75,294.97 1418.75,488.57 1419.25,434.79 1419.25,183 1419.75,284.62 1419.75,605 1420.25,457.99 1420.25,241.25 1420.75,165 1420.75,429.44 1421.25,451.83 1421.25,316.51 1421.75,253.68 1421.75,596 1422.25,426.87 1422.25,284.66 1422.75,273.45 1422.75,596 1423.25,453.67 1423.25,313.03 1423.75,196 1423.75,433.64 1424.25,483.52 1424.25,271.24 1424.75,259.34 1424.75,450.91 1425.25,417.95 1425.25,258.1 1425.75,308.51 1425.75,498.95 1426.25,450.85 1426.25,253.77 1426.75,283.18 1426.75,427.52 1427.25,442.9 1427.25,208 1427.75,250.35 1427.75,552.6 1428.25,421.43 1428.25,295.23 1428.75,233.2 1428.75,445.69 1429.25,434.34 1429.25,244.03 1429.75,224 1429.75,437.71 1430.25,470.99 1430.25,297.01 1430.75,286.33 1430.75,555 1431.25,416.9 1431.25,311.95 1431.75,264.46 1431.75,435.11 1432.25,443.34 1432.25,241.66 1432.75,208.2 1432.75,434.06 1433.25,464.35 1433.25,266.25 1433.75,271.84 1433.75,499 1434.25,547 1434.25,327.21 1434.75,234.11 1434.75,455 1435.25,483.19 1435.25,289.99 1435.75,304.72 1435.75,483.85 1436.25,467.45 1436.25,328.5 1436.75,155.4 1436.75,485.53 1437.25,448.83 1437.25,299.92 1437.75,287.45 1437.75,478.57 1438.25,458.68 1438.25,310.23 1438.75,279.98 1438.75,549 1439.25,477.58 1439.25,295.81" fill="none" stroke="#4c72b0" stroke-width="2.5" stroke-linejoin="round" clip-path="url(#ax)"/>
<g font-family='"DejaVu Sans","Liberation Sans",sans-serif' fill="#262626" font-size="20.83px">
<text x="231" y="123.8">SNR=18.29552459716797</text>
<text x="604.5" y="123.8"><tspan font-style="italic">M</tspan><tspan font-style="italic" font-size="14.58px" dy="3.4">c</tspan><tspan dy="-3.4">=3.0711214542388916</tspan></text>
<text x="1068.7" y="123.8"><tspan font-style="italic">S</tspan>=0.9999574422836304</text>
</g>
<path d="M200 684.5H1440M200 628.5H1440M200 572.5H1440M200 516.5H1440M200 460.5H1440M200 404.5H1440M200 348.5H1440M200 292.5H1440M200 236.5H1440M200 180.5H1440M200 124.5H1440" stroke="#fff" stroke-width="1.39" fill="none" clip-path="url(#ax)"/>
<polyline points="200.5,211 210.19,126.3 219.88,124 229.56,124 239.25,124 248.94,124 258.62,124 268.31,124 278,124 287.69,124 297.38,124 307.06,124 316.75,124 326.44,124 336.12,124.6 345.81,125.7 355.5,127.8 365.19,139 374.88,179.5 384.56,270 394.25,365 403.94,475 413.62,540.5 423.31,367 433,165 442.69,130.5 452.38,126.5 462.06,125.2 471.75,125 481.44,125 491.12,125.6 500.81,127.6 510.5,133.6 520.19,153.4 529.88,171.5 539.56,193 549.25,279 558.94,322 568.62,247 578.31,176.3 588,143 597.69,127 607.38,124.7 617.06,124 626.75,124 636.44,124 646.12,124 655.81,124 665.5,124 675.19,124 684.88,124 694.56,124 704.25,124 713.94,124 723.62,124 733.31,124 743,124 752.69,124 762.38,124 772.06,124 781.75,124 791.44,124.18 801.12,124.34 810.81,124.5 820.5,124.64 830.19,124.75 839.88,124.83 849.56,124.88 859.25,124.9 868.94,124.88 878.62,124.83 888.31,124.75 898,124.64 907.69,124.5 917.38,124.34 927.06,124.18 936.75,124 946.44,124 956.12,124 965.81,124 975.5,124 985.19,124 994.88,124 1004.56,124 1014.25,124 1023.94,124 1033.62,124 1043.31,124 1053,124 1062.69,124 1072.38,124 1082.06,124 1091.75,124 1101.44,124 1111.12,124 1120.81,124 1130.5,124 1140.19,124 1149.88,124 1159.56,124 1169.25,124 1178.94,124 1188.62,124 1198.31,124 1208,124 1217.69,124 1227.38,124 1237.06,124 1246.75,124 1256.44,124 1266.12,124 1275.81,124 1285.5,124 1295.19,124 1304.88,124 1314.56,124 1324.25,124 1333.94,124 1343.62,124 1353.31,124 1363,124 1372.69,124 1382.38,124 1392.06,124 1401.75,124 1411.44,124 1421.12,124 1430.81,124" fill="none" stroke="#55a868" stroke-width="2.08" stroke-linejoin="round" stroke-linecap="butt" clip-path="url(#ax)"/>
<path d="M200 180H1440" stroke="#c44e52" stroke-width="2.08"/>
<path d="M374.2 124V684M423.2 124V684M529.2 124V684M568.2 124V684" stroke="#111" stroke-width="2.08"/>
<rect x="200" y="96" width="1240" height="616" fill="none" stroke="#fff" stroke-width="1.74"/>
<path d="M200.6 124V684" stroke="#dedee2" stroke-width="1.2"/>
<path d="M192.1 684H199.13M192.1 653H199.13M192.1 621H199.13M192.1 590H199.13M192.1 558H199.13M192.1 527H199.13M192.1 495H199.13M192.1 464H199.13M192.1 432H199.13M192.1 401H199.13M192.1 369H199.13M192.1 338H199.13M192.1 306H199.13M192.1 275H199.13M192.1 243H199.13M192.1 212H199.13M192.1 180H199.13M192.1 149H199.13M192.1 117H199.13M1440.87 684H1448.33M1440.87 628H1448.33M1440.87 572H1448.33M1440.87 516H1448.33M1440.87 460H1448.33M1440.87 404H1448.33M1440.87 348H1448.33M1440.87 292H1448.33M1440.87 236H1448.33M1440.87 180H1448.33M1440.87 124H1448.33" stroke="#262626" stroke-width="1.74"/>
<g font-family='"DejaVu Sans","Liberation Sans",sans-serif' fill="#262626" font-size="15.28px">
<text transform="translate(186.9 690) scale(0.97 1)" text-anchor="end">−1.0</text>
<text transform="translate(186.9 659) scale(0.97 1)" text-anchor="end">−0.9</text>
<text transform="translate(186.9 627) scale(0.97 1)" text-anchor="end">−0.8</text>
<text transform="translate(186.9 596) scale(0.97 1)" text-anchor="end">−0.7</text>
<text transform="translate(186.9 564) scale(0.97 1)" text-anchor="end">−0.6</text>
<text transform="translate(186.9 533) scale(0.97 1)" text-anchor="end">−0.5</text>
<text transform="translate(186.9 501) scale(0.97 1)" text-anchor="end">−0.4</text>
<text transform="translate(186.9 470) scale(0.97 1)" text-anchor="end">−0.3</text>
<text transform="translate(186.9 438) scale(0.97 1)" text-anchor="end">−0.2</text>
<text transform="translate(186.9 407) scale(0.97 1)" text-anchor="end">−0.1</text>
<text transform="translate(186.9 375) scale(0.97 1)" text-anchor="end">0.0</text>
<text transform="translate(186.9 344) scale(0.97 1)" text-anchor="end">0.1</text>
<text transform="translate(186.9 312) scale(0.97 1)" text-anchor="end">0.2</text>
<text transform="translate(186.9 281) scale(0.97 1)" text-anchor="end">0.3</text>
<text transform="translate(186.9 249) scale(0.97 1)" text-anchor="end">0.4</text>
<text transform="translate(186.9 218) scale(0.97 1)" text-anchor="end">0.5</text>
<text transform="translate(186.9 186) scale(0.97 1)" text-anchor="end">0.6</text>
<text transform="translate(186.9 155) scale(0.97 1)" text-anchor="end">0.7</text>
<text transform="translate(186.9 123) scale(0.97 1)" text-anchor="end">0.8</text>
<text transform="translate(1453.9 690) scale(0.97 1)">0.0</text>
<text transform="translate(1453.9 634) scale(0.97 1)">0.1</text>
<text transform="translate(1453.9 578) scale(0.97 1)">0.2</text>
<text transform="translate(1453.9 522) scale(0.97 1)">0.3</text>
<text transform="translate(1453.9 466) scale(0.97 1)">0.4</text>
<text transform="translate(1453.9 410) scale(0.97 1)">0.5</text>
<text transform="translate(1453.9 354) scale(0.97 1)">0.6</text>
<text transform="translate(1453.9 298) scale(0.97 1)">0.7</text>
<text transform="translate(1453.9 242) scale(0.97 1)">0.8</text>
<text transform="translate(1453.9 186) scale(0.97 1)">0.9</text>
<text transform="translate(1453.9 130) scale(0.97 1)">1.0</text>
<text transform="translate(200.4 737) scale(0.97 1)" text-anchor="middle">0.0</text>
<text transform="translate(277.9 737) scale(0.97 1)" text-anchor="middle">0.5</text>
<text transform="translate(355.4 737) scale(0.97 1)" text-anchor="middle">1.0</text>
<text transform="translate(432.9 737) scale(0.97 1)" text-anchor="middle">1.5</text>
<text transform="translate(510.4 737) scale(0.97 1)" text-anchor="middle">2.0</text>
<text transform="translate(587.9 737) scale(0.97 1)" text-anchor="middle">2.5</text>
<text transform="translate(665.4 737) scale(0.97 1)" text-anchor="middle">3.0</text>
<text transform="translate(742.9 737) scale(0.97 1)" text-anchor="middle">3.5</text>
<text transform="translate(820.4 737) scale(0.97 1)" text-anchor="middle">4.0</text>
<text transform="translate(897.9 737) scale(0.97 1)" text-anchor="middle">4.5</text>
<text transform="translate(975.4 737) scale(0.97 1)" text-anchor="middle">5.0</text>
<text transform="translate(1052.9 737) scale(0.97 1)" text-anchor="middle">5.5</text>
<text transform="translate(1130.4 737) scale(0.97 1)" text-anchor="middle">6.0</text>
<text transform="translate(1207.9 737) scale(0.97 1)" text-anchor="middle">6.5</text>
<text transform="translate(1285.4 737) scale(0.97 1)" text-anchor="middle">7.0</text>
<text transform="translate(1362.9 737) scale(0.97 1)" text-anchor="middle">7.5</text>
</g>
<g font-family='"DejaVu Sans","Liberation Sans",sans-serif' fill="#262626" font-size="16.67px">
<text transform="translate(819.85 88) scale(0.9965 1.065)" text-anchor="middle">stats at each timestep for test data 1991 [signal=0]</text>
<text transform="translate(819.8 759.8) scale(1 1.05)" text-anchor="middle">Time (s)</text>
<text transform="translate(139.4 404.6) rotate(-90) scale(1 1.1)" text-anchor="middle">Whitened strain</text>
<text transform="translate(1496.2 404.6) rotate(-90) scale(1 1.1)" text-anchor="middle">Detection probability</text>
</g>
<rect x="1120.3" y="693.7" width="214.2" height="26.7" rx="2.8" ry="2.8" fill="#eaeaf2" fill-opacity="0.8" stroke="#cccccc" stroke-opacity="0.8" stroke-width="1.39"/>
<path d="M1125.9 706H1157.2" stroke="#4c72b0" stroke-width="2.08" stroke-linecap="square"/>
<text transform="translate(1168.7 711.4) scale(1.004 1.05)" font-family='"DejaVu Sans","Liberation Sans",sans-serif' font-size="15.28px" fill="#262626">waveform with noise</text>
</svg>
</div>
</body></html>
